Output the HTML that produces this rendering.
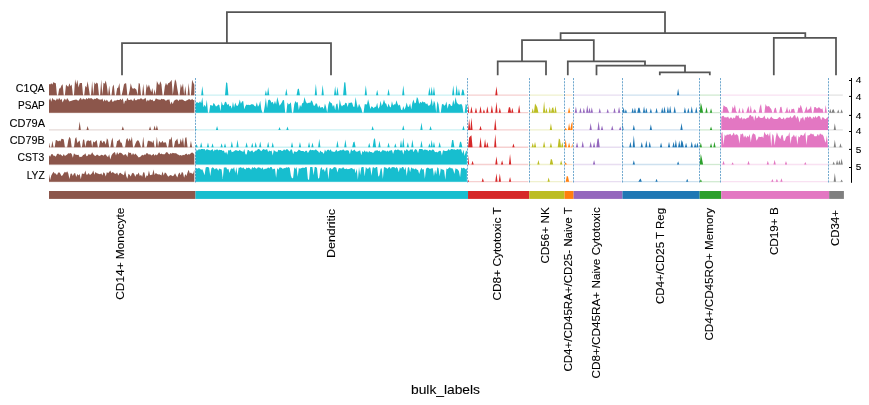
<!DOCTYPE html>
<html><head><meta charset="utf-8"><style>
html,body{margin:0;padding:0;background:#fff;}
svg{display:block;will-change:transform;}
text{font-family:"Liberation Sans",sans-serif;fill:#000;stroke:#000;stroke-width:0.1px;}
</style></head><body>
<svg width="869" height="405" viewBox="0 0 869 405">
<rect width="869" height="405" fill="#fff"/>
<path d="M226.9,43.0 V12.0 H665.0 V33.0" fill="none" stroke="#555555" stroke-width="1.75"/>
<path d="M122.0,75.3 V43.0 H331.0 V75.3" fill="none" stroke="#555555" stroke-width="1.75"/>
<path d="M560.6,40.0 V33.0 H805.3 V37.9" fill="none" stroke="#555555" stroke-width="1.75"/>
<path d="M522.0,61.3 V40.0 H593.8 V61.3" fill="none" stroke="#555555" stroke-width="1.75"/>
<path d="M497.7,75.3 V61.3 H546.0 V75.3" fill="none" stroke="#555555" stroke-width="1.75"/>
<path d="M567.8,75.3 V61.3 H645.0 V65.7" fill="none" stroke="#555555" stroke-width="1.75"/>
<path d="M596.5,75.3 V65.7 H685.0 V72.4" fill="none" stroke="#555555" stroke-width="1.75"/>
<path d="M659.8,75.3 V72.4 H709.8 V75.3" fill="none" stroke="#555555" stroke-width="1.75"/>
<path d="M773.8,75.3 V37.9 H836.0 V75.3" fill="none" stroke="#555555" stroke-width="1.75"/>
<path d="M49.00,95.20 L49.00,83.94 50.14,84.38 51.27,83.13 52.41,84.47 53.54,82.09 54.68,83.02 55.81,83.35 56.95,95.20 58.08,95.20 59.22,88.48 60.36,88.33 61.49,85.54 62.63,84.31 63.76,95.20 64.90,95.20 66.03,84.49 67.17,85.93 68.30,86.73 69.44,83.27 70.58,86.18 71.71,84.50 72.85,95.20 73.98,95.20 75.12,79.24 76.25,84.42 77.39,79.85 78.52,87.62 79.66,83.31 80.80,83.05 81.93,83.09 83.07,95.20 84.20,95.20 85.34,85.84 86.47,87.60 87.61,81.37 88.75,87.93 89.88,95.20 91.02,95.20 92.15,81.03 93.29,95.20 94.42,82.33 95.56,84.28 96.69,82.39 97.83,83.72 98.97,95.20 100.10,95.20 101.24,79.56 102.37,95.20 103.51,82.66 104.64,83.80 105.78,80.56 106.91,85.96 108.05,95.20 109.19,85.43 110.32,95.20 111.46,95.20 112.59,86.72 113.73,84.58 114.86,95.20 116.00,95.20 117.13,88.15 118.27,87.60 119.41,82.93 120.54,95.20 121.68,95.20 122.81,90.26 123.95,84.53 125.08,83.36 126.22,83.57 127.35,95.20 128.49,95.20 129.63,90.49 130.76,83.25 131.90,87.42 133.03,89.12 134.17,88.07 135.30,88.68 136.44,89.86 137.57,95.20 138.71,82.95 139.85,83.77 140.98,95.20 142.12,95.20 143.25,83.78 144.39,95.20 145.52,95.20 146.66,83.96 147.79,87.67 148.93,84.56 150.07,88.48 151.20,92.26 152.34,88.04 153.47,95.20 154.61,89.23 155.74,95.20 156.88,80.96 158.01,83.50 159.15,85.28 160.29,81.32 161.42,84.15 162.56,95.20 163.69,95.20 164.83,86.48 165.96,82.81 167.10,85.45 168.23,83.21 169.37,82.87 170.51,81.43 171.64,79.63 172.78,95.20 173.91,86.30 175.05,79.24 176.18,81.48 177.32,88.64 178.46,95.20 179.59,95.20 180.73,83.91 181.86,87.68 183.00,83.34 184.13,95.20 185.27,86.09 186.40,95.20 187.54,95.20 188.68,82.97 189.81,95.20 190.95,95.20 192.08,79.73 193.22,82.49 194.35,84.68 L194.35,95.20 Z" fill="#8c564b"/>
<line x1="49.00" y1="95.10" x2="194.35" y2="95.10" stroke="#8c564b" stroke-opacity="0.22" stroke-width="1.3"/>
<path d="M195.49,95.20 L195.49,95.20 196.62,95.20 197.76,95.20 198.90,95.20 200.03,95.20 201.17,95.20 202.30,85.97 203.44,95.20 204.57,95.20 205.71,95.20 206.84,95.20 207.98,95.20 209.12,95.20 210.25,95.20 211.39,95.20 212.52,95.20 213.66,95.20 214.79,95.20 215.93,95.20 217.06,95.20 218.20,95.20 219.34,95.20 220.47,95.20 221.61,95.20 222.74,95.20 223.88,95.20 225.01,95.20 226.15,82.24 227.28,83.04 228.42,95.20 229.56,95.20 230.69,95.20 231.83,95.20 232.96,95.20 234.10,95.20 235.23,95.20 236.37,95.20 237.50,95.20 238.64,95.20 239.78,95.20 240.91,95.20 242.05,95.20 243.18,95.20 244.32,95.20 245.45,95.20 246.59,95.20 247.72,95.20 248.86,95.20 250.00,95.20 251.13,95.20 252.27,95.20 253.40,95.20 254.54,95.20 255.67,95.20 256.81,95.20 257.95,95.20 259.08,95.20 260.22,95.20 261.35,95.20 262.49,95.20 263.62,95.20 264.76,95.20 265.89,90.34 267.03,95.20 268.17,86.89 269.30,95.20 270.44,95.20 271.57,95.20 272.71,95.20 273.84,95.20 274.98,95.20 276.11,95.20 277.25,95.20 278.39,95.20 279.52,95.20 280.66,95.20 281.79,95.20 282.93,95.20 284.06,95.20 285.20,95.20 286.33,88.62 287.47,95.20 288.61,95.20 289.74,95.20 290.88,95.20 292.01,95.20 293.15,95.20 294.28,95.20 295.42,95.20 296.55,95.20 297.69,89.22 298.83,88.48 299.96,95.20 301.10,95.20 302.23,95.20 303.37,95.20 304.50,95.20 305.64,95.20 306.77,95.20 307.91,95.20 309.05,95.20 310.18,95.20 311.32,95.20 312.45,95.20 313.59,95.20 314.72,95.20 315.86,83.66 316.99,95.20 318.13,95.20 319.27,95.20 320.40,95.20 321.54,95.20 322.67,84.86 323.81,95.20 324.94,95.20 326.08,95.20 327.21,95.20 328.35,95.20 329.49,95.20 330.62,95.20 331.76,95.20 332.89,95.20 334.03,95.20 335.16,86.11 336.30,95.20 337.44,86.70 338.57,95.20 339.71,95.20 340.84,95.20 341.98,95.20 343.11,95.20 344.25,82.25 345.38,82.45 346.52,95.20 347.66,95.20 348.79,95.20 349.93,95.20 351.06,95.20 352.20,95.20 353.33,95.20 354.47,95.20 355.60,95.20 356.74,95.20 357.88,95.20 359.01,95.20 360.15,95.20 361.28,95.20 362.42,95.20 363.55,95.20 364.69,95.20 365.82,85.35 366.96,95.20 368.10,95.20 369.23,95.20 370.37,95.20 371.50,95.20 372.64,95.20 373.77,95.20 374.91,95.20 376.04,95.20 377.18,89.78 378.32,95.20 379.45,95.20 380.59,95.20 381.72,95.20 382.86,95.20 383.99,95.20 385.13,95.20 386.26,95.20 387.40,95.20 388.54,88.69 389.67,95.20 390.81,95.20 391.94,95.20 393.08,95.20 394.21,95.20 395.35,95.20 396.48,95.20 397.62,95.20 398.76,95.20 399.89,95.20 401.03,95.20 402.16,95.20 403.30,85.20 404.43,95.20 405.57,95.20 406.70,95.20 407.84,95.20 408.98,95.20 410.11,95.20 411.25,95.20 412.38,95.20 413.52,95.20 414.65,95.20 415.79,95.20 416.93,95.20 418.06,95.20 419.20,95.20 420.33,95.20 421.47,95.20 422.60,95.20 423.74,95.20 424.87,95.20 426.01,95.20 427.15,95.20 428.28,95.20 429.42,86.92 430.55,95.20 431.69,86.48 432.82,95.20 433.96,86.59 435.09,95.20 436.23,95.20 437.37,95.20 438.50,95.20 439.64,95.20 440.77,95.20 441.91,95.20 443.04,95.20 444.18,95.20 445.31,95.20 446.45,95.20 447.59,95.20 448.72,95.20 449.86,95.20 450.99,95.20 452.13,95.20 453.26,85.34 454.40,95.20 455.53,95.20 456.67,84.78 457.81,95.20 458.94,88.50 460.08,95.20 461.21,95.20 462.35,89.29 463.48,90.05 464.62,95.20 465.75,95.20 466.89,95.20 L466.89,95.20 Z" fill="#17becf"/>
<line x1="195.49" y1="95.10" x2="466.89" y2="95.10" stroke="#17becf" stroke-opacity="0.22" stroke-width="1.3"/>
<path d="M468.03,95.20 L468.03,95.20 469.16,95.20 470.30,95.20 471.43,95.20 472.57,95.20 473.70,95.20 474.84,95.20 475.97,95.20 477.11,95.20 478.25,95.20 479.38,95.20 480.52,95.20 481.65,95.20 482.79,95.20 483.92,95.20 485.06,95.20 486.19,95.20 487.33,95.20 488.47,95.20 489.60,95.20 490.74,95.20 491.87,95.20 493.01,95.20 494.14,95.20 495.28,95.20 496.42,86.30 497.55,95.20 498.69,95.20 499.82,95.20 500.96,95.20 502.09,95.20 503.23,95.20 504.36,95.20 505.50,95.20 506.64,95.20 507.77,95.20 508.91,95.20 510.04,95.20 511.18,95.20 512.31,95.20 513.45,95.20 514.58,95.20 515.72,95.20 516.86,95.20 517.99,95.20 519.13,95.20 520.26,95.20 521.40,95.20 522.53,95.20 523.67,95.20 524.80,95.20 525.94,95.20 527.08,95.20 528.21,95.20 L528.21,95.20 Z" fill="#d62728"/>
<line x1="468.03" y1="95.10" x2="528.21" y2="95.10" stroke="#d62728" stroke-opacity="0.22" stroke-width="1.3"/>
<path d="M529.35,95.20 L529.35,95.20 530.48,95.20 531.62,95.20 532.75,95.20 533.89,95.20 535.02,95.20 536.16,95.20 537.30,95.20 538.43,95.20 539.57,95.20 540.70,95.20 541.84,95.20 542.97,95.20 544.11,95.20 545.24,95.20 546.38,95.20 547.52,95.20 548.65,95.20 549.79,95.20 550.92,95.20 552.06,95.20 553.19,95.20 554.33,95.20 555.46,95.20 556.60,95.20 557.74,95.20 558.87,95.20 560.01,95.20 561.14,95.20 562.28,95.20 563.41,95.20 L563.41,95.20 Z" fill="#bcbd22"/>
<line x1="529.35" y1="95.10" x2="563.41" y2="95.10" stroke="#bcbd22" stroke-opacity="0.22" stroke-width="1.3"/>
<path d="M564.55,95.20 L564.55,95.20 565.68,95.20 566.82,95.20 567.96,95.20 569.09,95.20 570.23,95.20 571.36,95.20 572.50,95.20 L572.50,95.20 Z" fill="#ff7f0e"/>
<line x1="564.55" y1="95.10" x2="572.50" y2="95.10" stroke="#ff7f0e" stroke-opacity="0.22" stroke-width="1.3"/>
<path d="M573.63,95.20 L573.63,95.20 574.77,95.20 575.91,95.20 577.04,95.20 578.18,95.20 579.31,95.20 580.45,95.20 581.58,95.20 582.72,95.20 583.85,95.20 584.99,95.20 586.13,95.20 587.26,95.20 588.40,95.20 589.53,95.20 590.67,95.20 591.80,95.20 592.94,95.20 594.07,95.20 595.21,95.20 596.35,95.20 597.48,95.20 598.62,95.20 599.75,95.20 600.89,95.20 602.02,95.20 603.16,95.20 604.29,95.20 605.43,95.20 606.57,95.20 607.70,95.20 608.84,95.20 609.97,95.20 611.11,95.20 612.24,95.20 613.38,95.20 614.51,95.20 615.65,95.20 616.79,95.20 617.92,95.20 619.06,95.20 620.19,95.20 621.33,95.20 L621.33,95.20 Z" fill="#9467bd"/>
<line x1="573.63" y1="95.10" x2="621.33" y2="95.10" stroke="#9467bd" stroke-opacity="0.22" stroke-width="1.3"/>
<path d="M622.46,95.20 L622.46,95.20 623.60,95.20 624.73,95.20 625.87,95.20 627.01,95.20 628.14,95.20 629.28,95.20 630.41,95.20 631.55,95.20 632.68,95.20 633.82,95.20 634.95,95.20 636.09,95.20 637.23,95.20 638.36,95.20 639.50,95.20 640.63,95.20 641.77,95.20 642.90,95.20 644.04,95.20 645.17,95.20 646.31,95.20 647.45,95.20 648.58,95.20 649.72,95.20 650.85,95.20 651.99,95.20 653.12,95.20 654.26,95.20 655.40,95.20 656.53,95.20 657.67,95.20 658.80,95.20 659.94,95.20 661.07,95.20 662.21,95.20 663.34,95.20 664.48,95.20 665.62,95.20 666.75,95.20 667.89,95.20 669.02,95.20 670.16,95.20 671.29,95.20 672.43,95.20 673.56,95.20 674.70,95.20 675.84,95.20 676.97,95.20 678.11,88.56 679.24,95.20 680.38,95.20 681.51,95.20 682.65,95.20 683.78,95.20 684.92,95.20 686.06,95.20 687.19,95.20 688.33,95.20 689.46,95.20 690.60,95.20 691.73,95.20 692.87,95.20 694.00,95.20 695.14,95.20 696.28,95.20 697.41,95.20 698.55,95.20 L698.55,95.20 Z" fill="#1f77b4"/>
<line x1="622.46" y1="95.10" x2="698.55" y2="95.10" stroke="#1f77b4" stroke-opacity="0.22" stroke-width="1.3"/>
<path d="M699.68,95.20 L699.68,95.20 700.82,95.20 701.95,95.20 703.09,95.20 704.22,95.20 705.36,95.20 706.50,95.20 707.63,95.20 708.77,95.20 709.90,95.20 711.04,95.20 712.17,95.20 713.31,95.20 714.44,95.20 715.58,95.20 716.72,95.20 717.85,95.20 718.99,95.20 720.12,95.20 L720.12,95.20 Z" fill="#2ca02c"/>
<line x1="699.68" y1="95.10" x2="720.12" y2="95.10" stroke="#2ca02c" stroke-opacity="0.22" stroke-width="1.3"/>
<path d="M721.26,95.20 L721.26,95.20 722.39,95.20 723.53,95.20 724.66,95.20 725.80,95.20 726.94,95.20 728.07,95.20 729.21,95.20 730.34,95.20 731.48,95.20 732.61,95.20 733.75,95.20 734.89,95.20 736.02,95.20 737.16,95.20 738.29,95.20 739.43,95.20 740.56,95.20 741.70,95.20 742.83,95.20 743.97,95.20 745.11,95.20 746.24,95.20 747.38,95.20 748.51,95.20 749.65,95.20 750.78,95.20 751.92,95.20 753.05,95.20 754.19,95.20 755.33,95.20 756.46,95.20 757.60,95.20 758.73,95.20 759.87,95.20 761.00,95.20 762.14,95.20 763.27,95.20 764.41,95.20 765.55,95.20 766.68,95.20 767.82,95.20 768.95,95.20 770.09,95.20 771.22,95.20 772.36,95.20 773.49,95.20 774.63,95.20 775.77,95.20 776.90,95.20 778.04,95.20 779.17,95.20 780.31,95.20 781.44,95.20 782.58,95.20 783.71,95.20 784.85,95.20 785.99,95.20 787.12,95.20 788.26,95.20 789.39,95.20 790.53,95.20 791.66,95.20 792.80,95.20 793.93,95.20 795.07,95.20 796.21,95.20 797.34,95.20 798.48,95.20 799.61,95.20 800.75,95.20 801.88,95.20 803.02,95.20 804.15,95.20 805.29,95.20 806.43,95.20 807.56,95.20 808.70,95.20 809.83,95.20 810.97,95.20 812.10,95.20 813.24,95.20 814.38,95.20 815.51,95.20 816.65,95.20 817.78,95.20 818.92,95.20 820.05,95.20 821.19,95.20 822.32,95.20 823.46,95.20 824.60,95.20 825.73,95.20 826.87,95.20 828.00,95.20 L828.00,95.20 Z" fill="#e377c2"/>
<line x1="721.26" y1="95.10" x2="828.00" y2="95.10" stroke="#e377c2" stroke-opacity="0.22" stroke-width="1.3"/>
<path d="M829.14,95.20 L829.14,95.20 830.27,95.20 831.41,95.20 832.54,95.20 833.68,95.20 834.82,95.20 835.95,95.20 837.09,95.20 838.22,95.20 839.36,95.20 840.49,95.20 841.63,95.20 842.76,95.20 L842.76,95.20 Z" fill="#7f7f7f"/>
<line x1="829.14" y1="95.10" x2="842.76" y2="95.10" stroke="#7f7f7f" stroke-opacity="0.22" stroke-width="1.3"/>
<path d="M49.00,112.70 L49.00,100.53 50.14,97.92 51.27,101.75 52.41,97.86 53.54,99.77 54.68,99.76 55.81,100.75 56.95,98.22 58.08,100.06 59.22,97.78 60.36,99.94 61.49,98.74 62.63,102.48 63.76,99.92 64.90,98.60 66.03,100.56 67.17,98.06 68.30,99.66 69.44,101.44 70.58,100.88 71.71,100.70 72.85,100.36 73.98,99.89 75.12,99.70 76.25,99.42 77.39,100.21 78.52,100.69 79.66,98.98 80.80,97.79 81.93,99.97 83.07,98.53 84.20,99.05 85.34,99.79 86.47,98.10 87.61,99.22 88.75,97.78 89.88,98.83 91.02,97.96 92.15,98.82 93.29,99.71 94.42,98.80 95.56,98.97 96.69,98.05 97.83,98.52 98.97,99.56 100.10,99.60 101.24,99.68 102.37,98.58 103.51,101.80 104.64,99.24 105.78,101.32 106.91,99.40 108.05,101.47 109.19,102.06 110.32,100.46 111.46,99.12 112.59,101.96 113.73,101.25 114.86,100.36 116.00,100.72 117.13,99.66 118.27,100.08 119.41,99.92 120.54,98.84 121.68,100.14 122.81,98.16 123.95,104.21 125.08,100.46 126.22,101.25 127.35,97.78 128.49,100.12 129.63,100.00 130.76,99.47 131.90,99.77 133.03,101.27 134.17,97.96 135.30,100.36 136.44,100.27 137.57,99.23 138.71,99.16 139.85,99.23 140.98,98.01 142.12,99.23 143.25,99.47 144.39,98.76 145.52,97.78 146.66,101.79 147.79,99.73 148.93,100.95 150.07,98.98 151.20,100.29 152.34,99.51 153.47,101.18 154.61,101.06 155.74,98.62 156.88,98.84 158.01,99.56 159.15,99.43 160.29,100.04 161.42,98.80 162.56,99.16 163.69,98.97 164.83,99.63 165.96,101.07 167.10,99.84 168.23,99.74 169.37,99.28 170.51,104.39 171.64,101.45 172.78,104.16 173.91,100.96 175.05,99.99 176.18,99.56 177.32,99.52 178.46,101.02 179.59,99.55 180.73,99.65 181.86,99.60 183.00,99.71 184.13,100.79 185.27,101.37 186.40,100.47 187.54,100.10 188.68,99.19 189.81,99.20 190.95,100.36 192.08,98.86 193.22,100.24 194.35,99.66 L194.35,112.70 Z" fill="#8c564b"/>
<line x1="49.00" y1="112.60" x2="194.35" y2="112.60" stroke="#8c564b" stroke-opacity="0.22" stroke-width="1.3"/>
<path d="M195.49,112.70 L195.49,104.36 196.62,102.11 197.76,102.49 198.90,103.04 200.03,101.23 201.17,103.28 202.30,97.29 203.44,107.25 204.57,104.86 205.71,107.00 206.84,99.87 207.98,112.70 209.12,112.70 210.25,105.12 211.39,105.35 212.52,106.10 213.66,102.84 214.79,104.52 215.93,106.47 217.06,106.11 218.20,104.49 219.34,104.99 220.47,111.23 221.61,101.46 222.74,104.89 223.88,105.32 225.01,101.86 226.15,101.98 227.28,105.04 228.42,103.72 229.56,106.48 230.69,105.47 231.83,108.66 232.96,101.78 234.10,107.45 235.23,102.54 236.37,105.41 237.50,105.93 238.64,103.93 239.78,99.51 240.91,103.70 242.05,101.55 243.18,101.00 244.32,109.37 245.45,106.03 246.59,104.40 247.72,105.01 248.86,104.69 250.00,105.19 251.13,104.27 252.27,104.34 253.40,104.54 254.54,106.03 255.67,106.44 256.81,102.23 257.95,106.63 259.08,105.08 260.22,100.74 261.35,109.61 262.49,112.70 263.62,112.70 264.76,106.07 265.89,97.86 267.03,108.37 268.17,100.22 269.30,99.54 270.44,100.60 271.57,102.85 272.71,101.70 273.84,104.56 274.98,100.85 276.11,104.62 277.25,97.09 278.39,101.35 279.52,105.75 280.66,104.20 281.79,102.53 282.93,100.05 284.06,100.30 285.20,112.70 286.33,112.70 287.47,102.57 288.61,104.48 289.74,103.79 290.88,102.14 292.01,112.70 293.15,112.70 294.28,104.13 295.42,100.95 296.55,102.86 297.69,102.06 298.83,110.05 299.96,104.67 301.10,107.08 302.23,103.36 303.37,102.74 304.50,97.09 305.64,101.24 306.77,103.17 307.91,103.14 309.05,102.54 310.18,103.12 311.32,100.37 312.45,101.78 313.59,105.49 314.72,105.78 315.86,103.16 316.99,103.65 318.13,107.74 319.27,105.21 320.40,107.79 321.54,107.15 322.67,106.89 323.81,108.92 324.94,103.40 326.08,107.02 327.21,112.70 328.35,104.86 329.49,101.06 330.62,102.84 331.76,103.15 332.89,106.64 334.03,104.73 335.16,110.36 336.30,104.12 337.44,103.42 338.57,110.84 339.71,99.20 340.84,104.60 341.98,106.61 343.11,105.12 344.25,105.36 345.38,102.67 346.52,103.08 347.66,106.96 348.79,102.50 349.93,103.13 351.06,102.30 352.20,103.12 353.33,106.65 354.47,106.71 355.60,97.09 356.74,103.46 357.88,107.88 359.01,103.82 360.15,106.26 361.28,108.61 362.42,112.70 363.55,112.70 364.69,104.14 365.82,104.19 366.96,104.61 368.10,99.30 369.23,103.52 370.37,109.03 371.50,106.17 372.64,107.11 373.77,108.25 374.91,106.68 376.04,106.71 377.18,102.71 378.32,108.82 379.45,106.80 380.59,100.84 381.72,105.99 382.86,103.40 383.99,99.48 385.13,103.30 386.26,103.81 387.40,107.62 388.54,103.54 389.67,106.58 390.81,107.56 391.94,101.26 393.08,105.62 394.21,104.21 395.35,104.61 396.48,100.14 397.62,103.95 398.76,105.75 399.89,104.44 401.03,109.53 402.16,110.37 403.30,106.01 404.43,109.71 405.57,107.05 406.70,102.56 407.84,106.72 408.98,106.80 410.11,103.15 411.25,109.42 412.38,102.74 413.52,99.55 414.65,103.40 415.79,102.64 416.93,97.09 418.06,98.76 419.20,104.07 420.33,101.75 421.47,103.10 422.60,101.18 423.74,102.38 424.87,102.02 426.01,104.17 427.15,103.23 428.28,105.80 429.42,105.52 430.55,104.15 431.69,98.37 432.82,106.26 433.96,100.62 435.09,103.62 436.23,112.70 437.37,101.28 438.50,104.32 439.64,112.70 440.77,112.70 441.91,104.42 443.04,103.72 444.18,105.75 445.31,105.04 446.45,101.58 447.59,108.86 448.72,104.17 449.86,103.66 450.99,105.91 452.13,105.84 453.26,99.79 454.40,104.73 455.53,97.12 456.67,102.13 457.81,103.84 458.94,104.47 460.08,104.42 461.21,103.75 462.35,105.63 463.48,112.70 464.62,112.70 465.75,103.74 466.89,105.31 L466.89,112.70 Z" fill="#17becf"/>
<line x1="195.49" y1="112.60" x2="466.89" y2="112.60" stroke="#17becf" stroke-opacity="0.22" stroke-width="1.3"/>
<path d="M468.03,112.70 L468.03,103.71 469.16,112.70 470.30,112.70 471.43,106.37 472.57,112.70 473.70,112.70 474.84,112.70 475.97,107.46 477.11,112.70 478.25,112.70 479.38,112.70 480.52,105.96 481.65,112.70 482.79,112.70 483.92,109.21 485.06,112.70 486.19,112.70 487.33,106.34 488.47,112.70 489.60,112.70 490.74,112.70 491.87,105.25 493.01,112.70 494.14,112.70 495.28,112.70 496.42,101.64 497.55,112.70 498.69,112.70 499.82,107.41 500.96,112.70 502.09,112.70 503.23,112.70 504.36,112.70 505.50,112.70 506.64,112.70 507.77,112.70 508.91,107.33 510.04,107.15 511.18,112.70 512.31,107.73 513.45,112.70 514.58,112.70 515.72,112.70 516.86,112.70 517.99,112.70 519.13,104.99 520.26,112.70 521.40,112.70 522.53,112.70 523.67,112.70 524.80,112.70 525.94,112.70 527.08,112.70 528.21,112.70 L528.21,112.70 Z" fill="#d62728"/>
<line x1="468.03" y1="112.60" x2="528.21" y2="112.60" stroke="#d62728" stroke-opacity="0.22" stroke-width="1.3"/>
<path d="M529.35,112.70 L529.35,112.70 530.48,112.70 531.62,112.70 532.75,108.22 533.89,112.70 535.02,103.59 536.16,105.27 537.30,107.49 538.43,112.70 539.57,112.70 540.70,112.70 541.84,112.70 542.97,112.70 544.11,101.36 545.24,112.70 546.38,107.99 547.52,112.70 548.65,112.70 549.79,106.71 550.92,112.70 552.06,108.01 553.19,107.23 554.33,112.70 555.46,105.67 556.60,112.70 557.74,112.70 558.87,112.70 560.01,112.70 561.14,112.70 562.28,112.70 563.41,112.70 L563.41,112.70 Z" fill="#bcbd22"/>
<line x1="529.35" y1="112.60" x2="563.41" y2="112.60" stroke="#bcbd22" stroke-opacity="0.22" stroke-width="1.3"/>
<path d="M564.55,112.70 L564.55,112.70 565.68,112.70 566.82,112.70 567.96,112.70 569.09,107.24 570.23,112.70 571.36,112.70 572.50,112.70 L572.50,112.70 Z" fill="#ff7f0e"/>
<line x1="564.55" y1="112.60" x2="572.50" y2="112.60" stroke="#ff7f0e" stroke-opacity="0.22" stroke-width="1.3"/>
<path d="M573.63,112.70 L573.63,112.70 574.77,112.70 575.91,106.57 577.04,112.70 578.18,112.70 579.31,112.70 580.45,107.62 581.58,112.70 582.72,112.70 583.85,107.77 584.99,112.70 586.13,112.70 587.26,104.91 588.40,112.70 589.53,107.45 590.67,112.70 591.80,107.19 592.94,112.70 594.07,112.70 595.21,112.70 596.35,112.70 597.48,112.70 598.62,112.70 599.75,107.91 600.89,112.70 602.02,112.70 603.16,112.70 604.29,112.70 605.43,112.70 606.57,112.70 607.70,108.67 608.84,112.70 609.97,112.70 611.11,112.70 612.24,112.70 613.38,112.70 614.51,107.76 615.65,112.70 616.79,112.70 617.92,112.70 619.06,106.76 620.19,112.70 621.33,112.70 L621.33,112.70 Z" fill="#9467bd"/>
<line x1="573.63" y1="112.60" x2="621.33" y2="112.60" stroke="#9467bd" stroke-opacity="0.22" stroke-width="1.3"/>
<path d="M622.46,112.70 L622.46,112.70 623.60,107.28 624.73,112.70 625.87,109.21 627.01,112.70 628.14,112.70 629.28,112.70 630.41,112.70 631.55,112.70 632.68,107.72 633.82,112.70 634.95,107.61 636.09,112.70 637.23,112.70 638.36,107.83 639.50,107.67 640.63,112.70 641.77,112.70 642.90,112.70 644.04,106.35 645.17,112.70 646.31,107.71 647.45,112.70 648.58,112.70 649.72,112.70 650.85,108.27 651.99,112.70 653.12,112.70 654.26,112.70 655.40,112.70 656.53,107.77 657.67,112.70 658.80,112.70 659.94,112.70 661.07,112.70 662.21,107.29 663.34,112.70 664.48,106.19 665.62,112.70 666.75,112.70 667.89,106.28 669.02,112.70 670.16,105.82 671.29,112.70 672.43,112.70 673.56,112.70 674.70,106.22 675.84,112.70 676.97,112.70 678.11,112.70 679.24,112.70 680.38,112.70 681.51,112.70 682.65,112.70 683.78,112.70 684.92,106.88 686.06,112.70 687.19,112.70 688.33,107.82 689.46,112.70 690.60,112.70 691.73,106.30 692.87,112.70 694.00,112.70 695.14,112.70 696.28,106.81 697.41,112.70 698.55,112.70 L698.55,112.70 Z" fill="#1f77b4"/>
<line x1="622.46" y1="112.60" x2="698.55" y2="112.60" stroke="#1f77b4" stroke-opacity="0.22" stroke-width="1.3"/>
<path d="M699.68,112.70 L699.68,112.70 700.82,102.58 701.95,106.74 703.09,112.70 704.22,112.70 705.36,112.70 706.50,107.05 707.63,112.70 708.77,112.70 709.90,112.70 711.04,108.37 712.17,112.70 713.31,112.70 714.44,112.70 715.58,112.70 716.72,112.70 717.85,112.70 718.99,112.70 720.12,112.70 L720.12,112.70 Z" fill="#2ca02c"/>
<line x1="699.68" y1="112.60" x2="720.12" y2="112.60" stroke="#2ca02c" stroke-opacity="0.22" stroke-width="1.3"/>
<path d="M721.26,112.70 L721.26,110.96 722.39,112.70 723.53,105.34 724.66,106.20 725.80,106.95 726.94,107.31 728.07,109.93 729.21,112.70 730.34,112.70 731.48,112.70 732.61,106.35 733.75,108.67 734.89,104.59 736.02,111.05 737.16,112.70 738.29,112.70 739.43,107.43 740.56,112.70 741.70,112.70 742.83,107.87 743.97,112.70 745.11,112.70 746.24,112.70 747.38,109.04 748.51,105.91 749.65,112.70 750.78,105.24 751.92,112.70 753.05,112.17 754.19,109.31 755.33,109.95 756.46,112.70 757.60,112.70 758.73,112.70 759.87,106.77 761.00,104.03 762.14,112.70 763.27,112.70 764.41,112.70 765.55,104.03 766.68,106.30 767.82,106.55 768.95,106.12 770.09,107.81 771.22,108.96 772.36,112.70 773.49,112.70 774.63,108.61 775.77,107.48 776.90,112.70 778.04,112.70 779.17,112.70 780.31,107.00 781.44,106.71 782.58,112.70 783.71,112.70 784.85,112.70 785.99,110.74 787.12,106.72 788.26,112.70 789.39,108.74 790.53,112.70 791.66,108.75 792.80,109.14 793.93,108.52 795.07,112.70 796.21,112.70 797.34,112.70 798.48,107.34 799.61,108.29 800.75,104.63 801.88,108.36 803.02,112.70 804.15,112.70 805.29,109.93 806.43,106.24 807.56,110.81 808.70,109.31 809.83,108.61 810.97,105.66 812.10,112.70 813.24,112.70 814.38,106.96 815.51,106.91 816.65,108.53 817.78,108.16 818.92,106.97 820.05,108.22 821.19,109.13 822.32,108.23 823.46,112.70 824.60,112.70 825.73,104.91 826.87,112.70 828.00,112.70 L828.00,112.70 Z" fill="#e377c2"/>
<line x1="721.26" y1="112.60" x2="828.00" y2="112.60" stroke="#e377c2" stroke-opacity="0.22" stroke-width="1.3"/>
<path d="M829.14,112.70 L829.14,112.70 830.27,108.79 831.41,112.70 832.54,109.75 833.68,109.17 834.82,112.70 835.95,112.70 837.09,112.70 838.22,109.43 839.36,112.70 840.49,112.70 841.63,109.34 842.76,112.70 L842.76,112.70 Z" fill="#7f7f7f"/>
<line x1="829.14" y1="112.60" x2="842.76" y2="112.60" stroke="#7f7f7f" stroke-opacity="0.22" stroke-width="1.3"/>
<path d="M49.00,130.00 L49.00,130.00 50.14,130.00 51.27,130.00 52.41,130.00 53.54,130.00 54.68,130.00 55.81,130.00 56.95,130.00 58.08,130.00 59.22,130.00 60.36,130.00 61.49,130.00 62.63,130.00 63.76,130.00 64.90,130.00 66.03,130.00 67.17,130.00 68.30,130.00 69.44,130.00 70.58,130.00 71.71,130.00 72.85,130.00 73.98,130.00 75.12,130.00 76.25,130.00 77.39,130.00 78.52,130.00 79.66,121.53 80.80,130.00 81.93,130.00 83.07,130.00 84.20,130.00 85.34,130.00 86.47,130.00 87.61,126.12 88.75,130.00 89.88,130.00 91.02,130.00 92.15,130.00 93.29,130.00 94.42,130.00 95.56,130.00 96.69,130.00 97.83,130.00 98.97,130.00 100.10,130.00 101.24,130.00 102.37,130.00 103.51,130.00 104.64,130.00 105.78,130.00 106.91,130.00 108.05,130.00 109.19,130.00 110.32,130.00 111.46,130.00 112.59,130.00 113.73,130.00 114.86,130.00 116.00,130.00 117.13,130.00 118.27,130.00 119.41,130.00 120.54,130.00 121.68,130.00 122.81,126.29 123.95,130.00 125.08,130.00 126.22,130.00 127.35,130.00 128.49,130.00 129.63,130.00 130.76,130.00 131.90,130.00 133.03,130.00 134.17,130.00 135.30,130.00 136.44,130.00 137.57,130.00 138.71,130.00 139.85,130.00 140.98,130.00 142.12,130.00 143.25,130.00 144.39,130.00 145.52,130.00 146.66,130.00 147.79,130.00 148.93,130.00 150.07,126.18 151.20,130.00 152.34,130.00 153.47,130.00 154.61,125.50 155.74,130.00 156.88,125.36 158.01,130.00 159.15,130.00 160.29,130.00 161.42,130.00 162.56,130.00 163.69,130.00 164.83,130.00 165.96,130.00 167.10,130.00 168.23,130.00 169.37,130.00 170.51,130.00 171.64,130.00 172.78,130.00 173.91,130.00 175.05,130.00 176.18,130.00 177.32,130.00 178.46,130.00 179.59,130.00 180.73,130.00 181.86,130.00 183.00,130.00 184.13,130.00 185.27,130.00 186.40,130.00 187.54,130.00 188.68,130.00 189.81,130.00 190.95,130.00 192.08,130.00 193.22,130.00 194.35,130.00 L194.35,130.00 Z" fill="#8c564b"/>
<line x1="49.00" y1="129.90" x2="194.35" y2="129.90" stroke="#8c564b" stroke-opacity="0.22" stroke-width="1.3"/>
<path d="M195.49,130.00 L195.49,127.76 196.62,130.00 197.76,130.00 198.90,130.00 200.03,130.00 201.17,130.00 202.30,130.00 203.44,130.00 204.57,130.00 205.71,130.00 206.84,130.00 207.98,130.00 209.12,130.00 210.25,130.00 211.39,130.00 212.52,130.00 213.66,130.00 214.79,130.00 215.93,130.00 217.06,126.06 218.20,130.00 219.34,130.00 220.47,130.00 221.61,130.00 222.74,130.00 223.88,130.00 225.01,130.00 226.15,130.00 227.28,130.00 228.42,130.00 229.56,130.00 230.69,130.00 231.83,130.00 232.96,130.00 234.10,130.00 235.23,130.00 236.37,130.00 237.50,130.00 238.64,130.00 239.78,130.00 240.91,130.00 242.05,130.00 243.18,130.00 244.32,130.00 245.45,130.00 246.59,130.00 247.72,130.00 248.86,130.00 250.00,130.00 251.13,130.00 252.27,130.00 253.40,130.00 254.54,130.00 255.67,130.00 256.81,130.00 257.95,130.00 259.08,130.00 260.22,130.00 261.35,130.00 262.49,130.00 263.62,130.00 264.76,130.00 265.89,130.00 267.03,130.00 268.17,130.00 269.30,130.00 270.44,130.00 271.57,130.00 272.71,130.00 273.84,130.00 274.98,130.00 276.11,130.00 277.25,130.00 278.39,130.00 279.52,126.98 280.66,130.00 281.79,130.00 282.93,130.00 284.06,130.00 285.20,130.00 286.33,130.00 287.47,126.49 288.61,130.00 289.74,130.00 290.88,130.00 292.01,130.00 293.15,130.00 294.28,130.00 295.42,130.00 296.55,130.00 297.69,130.00 298.83,130.00 299.96,130.00 301.10,130.00 302.23,130.00 303.37,130.00 304.50,130.00 305.64,130.00 306.77,130.00 307.91,130.00 309.05,130.00 310.18,130.00 311.32,130.00 312.45,130.00 313.59,130.00 314.72,130.00 315.86,130.00 316.99,130.00 318.13,130.00 319.27,130.00 320.40,130.00 321.54,130.00 322.67,130.00 323.81,130.00 324.94,130.00 326.08,130.00 327.21,130.00 328.35,130.00 329.49,130.00 330.62,130.00 331.76,130.00 332.89,130.00 334.03,130.00 335.16,130.00 336.30,130.00 337.44,130.00 338.57,130.00 339.71,130.00 340.84,130.00 341.98,130.00 343.11,130.00 344.25,130.00 345.38,130.00 346.52,130.00 347.66,130.00 348.79,130.00 349.93,130.00 351.06,130.00 352.20,130.00 353.33,130.00 354.47,130.00 355.60,130.00 356.74,130.00 357.88,130.00 359.01,130.00 360.15,130.00 361.28,130.00 362.42,130.00 363.55,130.00 364.69,130.00 365.82,130.00 366.96,130.00 368.10,130.00 369.23,130.00 370.37,130.00 371.50,130.00 372.64,126.12 373.77,130.00 374.91,130.00 376.04,130.00 377.18,130.00 378.32,130.00 379.45,130.00 380.59,130.00 381.72,130.00 382.86,130.00 383.99,130.00 385.13,130.00 386.26,130.00 387.40,130.00 388.54,130.00 389.67,130.00 390.81,130.00 391.94,130.00 393.08,130.00 394.21,130.00 395.35,130.00 396.48,130.00 397.62,130.00 398.76,130.00 399.89,130.00 401.03,130.00 402.16,130.00 403.30,125.20 404.43,130.00 405.57,130.00 406.70,130.00 407.84,130.00 408.98,130.00 410.11,130.00 411.25,130.00 412.38,130.00 413.52,130.00 414.65,130.00 415.79,130.00 416.93,130.00 418.06,130.00 419.20,130.00 420.33,130.00 421.47,122.53 422.60,130.00 423.74,130.00 424.87,130.00 426.01,130.00 427.15,130.00 428.28,130.00 429.42,130.00 430.55,126.00 431.69,130.00 432.82,130.00 433.96,130.00 435.09,130.00 436.23,130.00 437.37,130.00 438.50,130.00 439.64,130.00 440.77,130.00 441.91,130.00 443.04,130.00 444.18,130.00 445.31,130.00 446.45,130.00 447.59,130.00 448.72,130.00 449.86,130.00 450.99,130.00 452.13,130.00 453.26,130.00 454.40,130.00 455.53,130.00 456.67,130.00 457.81,130.00 458.94,130.00 460.08,130.00 461.21,130.00 462.35,130.00 463.48,125.40 464.62,130.00 465.75,130.00 466.89,130.00 L466.89,130.00 Z" fill="#17becf"/>
<line x1="195.49" y1="129.90" x2="466.89" y2="129.90" stroke="#17becf" stroke-opacity="0.22" stroke-width="1.3"/>
<path d="M468.03,130.00 L468.03,130.00 469.16,118.87 470.30,130.00 471.43,117.60 472.57,130.00 473.70,130.00 474.84,130.00 475.97,130.00 477.11,130.00 478.25,130.00 479.38,130.00 480.52,125.76 481.65,130.00 482.79,130.00 483.92,130.00 485.06,130.00 486.19,130.00 487.33,130.00 488.47,130.00 489.60,130.00 490.74,130.00 491.87,130.00 493.01,130.00 494.14,130.00 495.28,118.51 496.42,130.00 497.55,130.00 498.69,130.00 499.82,130.00 500.96,130.00 502.09,130.00 503.23,130.00 504.36,130.00 505.50,130.00 506.64,130.00 507.77,130.00 508.91,130.00 510.04,130.00 511.18,130.00 512.31,130.00 513.45,130.00 514.58,130.00 515.72,130.00 516.86,130.00 517.99,130.00 519.13,130.00 520.26,130.00 521.40,130.00 522.53,130.00 523.67,130.00 524.80,130.00 525.94,130.00 527.08,130.00 528.21,130.00 L528.21,130.00 Z" fill="#d62728"/>
<line x1="468.03" y1="129.90" x2="528.21" y2="129.90" stroke="#d62728" stroke-opacity="0.22" stroke-width="1.3"/>
<path d="M529.35,130.00 L529.35,130.00 530.48,130.00 531.62,130.00 532.75,130.00 533.89,130.00 535.02,130.00 536.16,130.00 537.30,130.00 538.43,130.00 539.57,130.00 540.70,130.00 541.84,130.00 542.97,130.00 544.11,130.00 545.24,130.00 546.38,130.00 547.52,130.00 548.65,130.00 549.79,130.00 550.92,123.14 552.06,130.00 553.19,130.00 554.33,130.00 555.46,130.00 556.60,130.00 557.74,130.00 558.87,130.00 560.01,130.00 561.14,130.00 562.28,130.00 563.41,130.00 L563.41,130.00 Z" fill="#bcbd22"/>
<line x1="529.35" y1="129.90" x2="563.41" y2="129.90" stroke="#bcbd22" stroke-opacity="0.22" stroke-width="1.3"/>
<path d="M564.55,130.00 L564.55,130.00 565.68,127.78 566.82,130.00 567.96,130.00 569.09,123.07 570.23,130.00 571.36,123.81 572.50,121.60 L572.50,130.00 Z" fill="#ff7f0e"/>
<line x1="564.55" y1="129.90" x2="572.50" y2="129.90" stroke="#ff7f0e" stroke-opacity="0.22" stroke-width="1.3"/>
<path d="M573.63,130.00 L573.63,130.00 574.77,130.00 575.91,130.00 577.04,130.00 578.18,130.00 579.31,130.00 580.45,130.00 581.58,130.00 582.72,130.00 583.85,130.00 584.99,130.00 586.13,130.00 587.26,130.00 588.40,130.00 589.53,130.00 590.67,122.90 591.80,130.00 592.94,130.00 594.07,130.00 595.21,130.00 596.35,130.00 597.48,130.00 598.62,121.17 599.75,130.00 600.89,130.00 602.02,125.47 603.16,130.00 604.29,130.00 605.43,130.00 606.57,130.00 607.70,130.00 608.84,130.00 609.97,130.00 611.11,130.00 612.24,125.44 613.38,130.00 614.51,130.00 615.65,130.00 616.79,130.00 617.92,130.00 619.06,130.00 620.19,126.47 621.33,130.00 L621.33,130.00 Z" fill="#9467bd"/>
<line x1="573.63" y1="129.90" x2="621.33" y2="129.90" stroke="#9467bd" stroke-opacity="0.22" stroke-width="1.3"/>
<path d="M622.46,130.00 L622.46,122.69 623.60,130.00 624.73,130.00 625.87,130.00 627.01,130.00 628.14,130.00 629.28,130.00 630.41,130.00 631.55,130.00 632.68,130.00 633.82,124.69 634.95,130.00 636.09,130.00 637.23,130.00 638.36,130.00 639.50,130.00 640.63,130.00 641.77,130.00 642.90,130.00 644.04,130.00 645.17,130.00 646.31,130.00 647.45,130.00 648.58,130.00 649.72,130.00 650.85,124.31 651.99,130.00 653.12,130.00 654.26,130.00 655.40,130.00 656.53,130.00 657.67,130.00 658.80,130.00 659.94,130.00 661.07,130.00 662.21,130.00 663.34,130.00 664.48,130.00 665.62,130.00 666.75,130.00 667.89,130.00 669.02,130.00 670.16,130.00 671.29,130.00 672.43,130.00 673.56,130.00 674.70,130.00 675.84,130.00 676.97,130.00 678.11,130.00 679.24,130.00 680.38,130.00 681.51,122.99 682.65,130.00 683.78,130.00 684.92,130.00 686.06,130.00 687.19,130.00 688.33,130.00 689.46,130.00 690.60,130.00 691.73,130.00 692.87,130.00 694.00,130.00 695.14,130.00 696.28,130.00 697.41,130.00 698.55,130.00 L698.55,130.00 Z" fill="#1f77b4"/>
<line x1="622.46" y1="129.90" x2="698.55" y2="129.90" stroke="#1f77b4" stroke-opacity="0.22" stroke-width="1.3"/>
<path d="M699.68,130.00 L699.68,130.00 700.82,130.00 701.95,130.00 703.09,130.00 704.22,130.00 705.36,130.00 706.50,130.00 707.63,130.00 708.77,130.00 709.90,130.00 711.04,126.43 712.17,130.00 713.31,130.00 714.44,130.00 715.58,130.00 716.72,130.00 717.85,130.00 718.99,130.00 720.12,130.00 L720.12,130.00 Z" fill="#2ca02c"/>
<line x1="699.68" y1="129.90" x2="720.12" y2="129.90" stroke="#2ca02c" stroke-opacity="0.22" stroke-width="1.3"/>
<path d="M721.26,130.00 L721.26,117.05 722.39,115.93 723.53,115.73 724.66,117.56 725.80,117.13 726.94,117.44 728.07,116.59 729.21,119.00 730.34,117.43 731.48,117.58 732.61,119.00 733.75,117.27 734.89,118.39 736.02,115.08 737.16,116.21 738.29,115.08 739.43,118.21 740.56,118.47 741.70,117.06 742.83,119.63 743.97,117.80 745.11,119.15 746.24,118.57 747.38,117.83 748.51,117.70 749.65,115.24 750.78,115.09 751.92,116.90 753.05,115.97 754.19,120.77 755.33,115.12 756.46,118.57 757.60,117.86 758.73,115.63 759.87,117.73 761.00,118.11 762.14,117.98 763.27,117.47 764.41,115.55 765.55,118.78 766.68,119.08 767.82,117.04 768.95,119.60 770.09,118.26 771.22,116.50 772.36,118.06 773.49,118.67 774.63,119.12 775.77,119.12 776.90,118.90 778.04,118.46 779.17,117.11 780.31,117.58 781.44,119.02 782.58,118.93 783.71,117.34 784.85,119.78 785.99,117.99 787.12,117.41 788.26,117.86 789.39,117.71 790.53,115.95 791.66,118.34 792.80,117.33 793.93,115.51 795.07,115.08 796.21,118.77 797.34,115.99 798.48,117.95 799.61,122.50 800.75,117.89 801.88,118.45 803.02,116.38 804.15,120.85 805.29,117.12 806.43,117.67 807.56,116.32 808.70,117.98 809.83,116.15 810.97,117.34 812.10,119.28 813.24,116.46 814.38,118.09 815.51,115.96 816.65,117.91 817.78,116.51 818.92,115.69 820.05,116.77 821.19,120.27 822.32,117.16 823.46,117.53 824.60,118.63 825.73,119.22 826.87,117.80 828.00,117.01 L828.00,130.00 Z" fill="#e377c2"/>
<line x1="721.26" y1="129.90" x2="828.00" y2="129.90" stroke="#e377c2" stroke-opacity="0.22" stroke-width="1.3"/>
<path d="M829.14,130.00 L829.14,130.00 830.27,130.00 831.41,130.00 832.54,130.00 833.68,130.00 834.82,123.13 835.95,130.00 837.09,130.00 838.22,130.00 839.36,130.00 840.49,130.00 841.63,130.00 842.76,130.00 L842.76,130.00 Z" fill="#7f7f7f"/>
<line x1="829.14" y1="129.90" x2="842.76" y2="129.90" stroke="#7f7f7f" stroke-opacity="0.22" stroke-width="1.3"/>
<path d="M49.00,147.35 L49.00,142.40 50.14,147.35 51.27,147.35 52.41,140.69 53.54,147.35 54.68,147.35 55.81,139.92 56.95,140.17 58.08,141.55 59.22,140.51 60.36,141.60 61.49,138.69 62.63,139.09 63.76,139.60 64.90,147.35 66.03,147.35 67.17,147.35 68.30,140.26 69.44,136.75 70.58,138.66 71.71,147.35 72.85,147.35 73.98,147.35 75.12,138.81 76.25,136.96 77.39,142.97 78.52,141.57 79.66,140.53 80.80,147.35 81.93,147.35 83.07,139.52 84.20,139.75 85.34,147.35 86.47,141.45 87.61,140.49 88.75,140.49 89.88,141.34 91.02,139.70 92.15,147.35 93.29,141.16 94.42,142.51 95.56,141.13 96.69,140.11 97.83,147.35 98.97,147.35 100.10,141.02 101.24,140.30 102.37,143.31 103.51,140.99 104.64,141.59 105.78,144.67 106.91,138.36 108.05,139.99 109.19,147.35 110.32,147.35 111.46,140.72 112.59,137.56 113.73,147.35 114.86,147.35 116.00,147.35 117.13,141.08 118.27,140.65 119.41,139.08 120.54,142.61 121.68,142.70 122.81,147.35 123.95,147.35 125.08,147.35 126.22,139.79 127.35,138.01 128.49,141.51 129.63,138.25 130.76,141.20 131.90,136.59 133.03,147.35 134.17,147.35 135.30,143.92 136.44,141.40 137.57,140.20 138.71,140.73 139.85,143.53 140.98,147.35 142.12,147.35 143.25,136.59 144.39,147.35 145.52,147.35 146.66,147.35 147.79,141.18 148.93,140.55 150.07,141.47 151.20,141.24 152.34,143.05 153.47,140.10 154.61,147.35 155.74,147.35 156.88,136.59 158.01,147.35 159.15,140.79 160.29,142.52 161.42,142.52 162.56,140.86 163.69,142.92 164.83,142.24 165.96,142.47 167.10,147.35 168.23,147.35 169.37,139.04 170.51,139.87 171.64,136.59 172.78,147.35 173.91,147.35 175.05,141.27 176.18,140.14 177.32,138.43 178.46,144.36 179.59,143.90 180.73,138.58 181.86,142.74 183.00,137.33 184.13,147.35 185.27,137.78 186.40,137.36 187.54,147.35 188.68,147.35 189.81,147.35 190.95,140.83 192.08,147.35 193.22,147.35 194.35,147.35 L194.35,147.35 Z" fill="#8c564b"/>
<line x1="49.00" y1="147.25" x2="194.35" y2="147.25" stroke="#8c564b" stroke-opacity="0.22" stroke-width="1.3"/>
<path d="M195.49,147.35 L195.49,147.35 196.62,144.11 197.76,147.35 198.90,147.35 200.03,147.35 201.17,142.36 202.30,147.35 203.44,147.35 204.57,147.35 205.71,147.35 206.84,147.35 207.98,142.41 209.12,147.35 210.25,147.35 211.39,147.35 212.52,143.33 213.66,147.35 214.79,147.35 215.93,147.35 217.06,147.35 218.20,147.35 219.34,147.35 220.47,147.35 221.61,143.33 222.74,147.35 223.88,147.35 225.01,143.20 226.15,147.35 227.28,147.35 228.42,147.35 229.56,147.35 230.69,147.35 231.83,141.33 232.96,147.35 234.10,147.35 235.23,147.35 236.37,147.35 237.50,139.79 238.64,147.35 239.78,147.35 240.91,147.35 242.05,147.35 243.18,147.35 244.32,147.35 245.45,147.35 246.59,142.14 247.72,147.35 248.86,147.35 250.00,147.35 251.13,147.35 252.27,142.79 253.40,147.35 254.54,147.35 255.67,142.05 256.81,147.35 257.95,147.35 259.08,147.35 260.22,141.57 261.35,147.35 262.49,147.35 263.62,147.35 264.76,147.35 265.89,147.35 267.03,147.35 268.17,141.68 269.30,147.35 270.44,147.35 271.57,147.35 272.71,142.37 273.84,147.35 274.98,147.35 276.11,147.35 277.25,147.35 278.39,147.35 279.52,147.35 280.66,147.35 281.79,147.35 282.93,147.35 284.06,147.35 285.20,147.35 286.33,147.35 287.47,147.35 288.61,147.35 289.74,147.35 290.88,147.35 292.01,142.04 293.15,147.35 294.28,147.35 295.42,147.35 296.55,147.35 297.69,147.35 298.83,147.35 299.96,141.95 301.10,147.35 302.23,147.35 303.37,147.35 304.50,147.35 305.64,147.35 306.77,147.35 307.91,147.35 309.05,142.12 310.18,147.35 311.32,147.35 312.45,142.44 313.59,147.35 314.72,147.35 315.86,147.35 316.99,147.35 318.13,147.35 319.27,138.63 320.40,147.35 321.54,147.35 322.67,147.35 323.81,147.35 324.94,147.35 326.08,147.35 327.21,147.35 328.35,147.35 329.49,147.35 330.62,147.35 331.76,147.35 332.89,147.35 334.03,147.35 335.16,147.35 336.30,147.35 337.44,140.39 338.57,147.35 339.71,147.35 340.84,147.35 341.98,147.35 343.11,147.35 344.25,147.35 345.38,139.38 346.52,147.35 347.66,147.35 348.79,147.35 349.93,147.35 351.06,147.35 352.20,147.35 353.33,142.18 354.47,141.54 355.60,147.35 356.74,147.35 357.88,147.35 359.01,147.35 360.15,147.35 361.28,147.35 362.42,147.35 363.55,147.35 364.69,147.35 365.82,147.35 366.96,147.35 368.10,147.35 369.23,142.84 370.37,147.35 371.50,147.35 372.64,147.35 373.77,139.81 374.91,137.92 376.04,147.35 377.18,147.35 378.32,147.35 379.45,140.87 380.59,147.35 381.72,147.35 382.86,147.35 383.99,147.35 385.13,147.35 386.26,147.35 387.40,147.35 388.54,142.40 389.67,147.35 390.81,147.35 391.94,147.35 393.08,147.35 394.21,147.35 395.35,143.19 396.48,147.35 397.62,147.35 398.76,147.35 399.89,147.35 401.03,139.95 402.16,147.35 403.30,137.59 404.43,147.35 405.57,147.35 406.70,147.35 407.84,142.25 408.98,147.35 410.11,147.35 411.25,147.35 412.38,139.40 413.52,147.35 414.65,147.35 415.79,147.35 416.93,147.35 418.06,147.35 419.20,147.35 420.33,147.35 421.47,140.43 422.60,147.35 423.74,147.35 424.87,147.35 426.01,147.35 427.15,147.35 428.28,147.35 429.42,143.20 430.55,147.35 431.69,139.64 432.82,147.35 433.96,141.73 435.09,147.35 436.23,147.35 437.37,147.35 438.50,147.35 439.64,142.06 440.77,147.35 441.91,147.35 443.04,147.35 444.18,147.35 445.31,147.35 446.45,147.35 447.59,147.35 448.72,147.35 449.86,147.35 450.99,147.35 452.13,139.89 453.26,139.91 454.40,147.35 455.53,147.35 456.67,147.35 457.81,147.35 458.94,147.35 460.08,141.45 461.21,142.18 462.35,147.35 463.48,147.35 464.62,147.35 465.75,147.35 466.89,147.35 L466.89,147.35 Z" fill="#17becf"/>
<line x1="195.49" y1="147.25" x2="466.89" y2="147.25" stroke="#17becf" stroke-opacity="0.22" stroke-width="1.3"/>
<path d="M468.03,147.35 L468.03,147.35 469.16,137.39 470.30,136.27 471.43,135.36 472.57,147.35 473.70,147.35 474.84,147.35 475.97,147.35 477.11,147.35 478.25,147.35 479.38,147.35 480.52,136.93 481.65,147.35 482.79,147.35 483.92,147.35 485.06,139.00 486.19,147.35 487.33,141.93 488.47,147.35 489.60,147.35 490.74,147.35 491.87,147.35 493.01,147.35 494.14,147.35 495.28,134.05 496.42,147.35 497.55,147.35 498.69,147.35 499.82,147.35 500.96,147.35 502.09,147.35 503.23,147.35 504.36,147.35 505.50,147.35 506.64,147.35 507.77,147.35 508.91,147.35 510.04,147.35 511.18,147.35 512.31,147.35 513.45,143.39 514.58,147.35 515.72,147.35 516.86,147.35 517.99,147.35 519.13,147.35 520.26,147.35 521.40,147.35 522.53,147.35 523.67,147.35 524.80,147.35 525.94,147.35 527.08,147.35 528.21,147.35 L528.21,147.35 Z" fill="#d62728"/>
<line x1="468.03" y1="147.25" x2="528.21" y2="147.25" stroke="#d62728" stroke-opacity="0.22" stroke-width="1.3"/>
<path d="M529.35,147.35 L529.35,147.35 530.48,147.35 531.62,147.35 532.75,142.80 533.89,147.35 535.02,141.73 536.16,147.35 537.30,147.35 538.43,147.35 539.57,147.35 540.70,147.35 541.84,147.35 542.97,147.35 544.11,141.17 545.24,147.35 546.38,147.35 547.52,147.35 548.65,147.35 549.79,147.35 550.92,142.58 552.06,147.35 553.19,147.35 554.33,147.35 555.46,147.35 556.60,147.35 557.74,147.35 558.87,138.62 560.01,139.48 561.14,147.35 562.28,142.11 563.41,147.35 L563.41,147.35 Z" fill="#bcbd22"/>
<line x1="529.35" y1="147.25" x2="563.41" y2="147.25" stroke="#bcbd22" stroke-opacity="0.22" stroke-width="1.3"/>
<path d="M564.55,147.35 L564.55,147.35 565.68,139.15 566.82,147.35 567.96,147.35 569.09,142.48 570.23,147.35 571.36,147.35 572.50,143.09 L572.50,147.35 Z" fill="#ff7f0e"/>
<line x1="564.55" y1="147.25" x2="572.50" y2="147.25" stroke="#ff7f0e" stroke-opacity="0.22" stroke-width="1.3"/>
<path d="M573.63,147.35 L573.63,147.35 574.77,147.35 575.91,147.35 577.04,142.14 578.18,147.35 579.31,147.35 580.45,147.35 581.58,147.35 582.72,141.00 583.85,147.35 584.99,147.35 586.13,147.35 587.26,147.35 588.40,147.35 589.53,147.35 590.67,141.46 591.80,147.35 592.94,147.35 594.07,142.04 595.21,147.35 596.35,147.35 597.48,139.10 598.62,138.31 599.75,147.35 600.89,147.35 602.02,147.35 603.16,147.35 604.29,147.35 605.43,147.35 606.57,147.35 607.70,147.35 608.84,147.35 609.97,147.35 611.11,147.35 612.24,147.35 613.38,147.35 614.51,147.35 615.65,147.35 616.79,147.35 617.92,147.35 619.06,147.35 620.19,147.35 621.33,147.35 L621.33,147.35 Z" fill="#9467bd"/>
<line x1="573.63" y1="147.25" x2="621.33" y2="147.25" stroke="#9467bd" stroke-opacity="0.22" stroke-width="1.3"/>
<path d="M622.46,147.35 L622.46,143.36 623.60,147.35 624.73,147.35 625.87,147.35 627.01,147.35 628.14,147.35 629.28,147.35 630.41,141.65 631.55,147.35 632.68,147.35 633.82,135.20 634.95,147.35 636.09,147.35 637.23,147.35 638.36,147.35 639.50,147.35 640.63,147.35 641.77,141.91 642.90,147.35 644.04,147.35 645.17,147.35 646.31,140.33 647.45,147.35 648.58,147.35 649.72,141.51 650.85,147.35 651.99,147.35 653.12,147.35 654.26,147.35 655.40,147.35 656.53,147.35 657.67,147.35 658.80,147.35 659.94,147.35 661.07,142.52 662.21,147.35 663.34,147.35 664.48,147.35 665.62,147.35 666.75,147.35 667.89,147.35 669.02,141.69 670.16,147.35 671.29,147.35 672.43,147.35 673.56,141.80 674.70,147.35 675.84,139.49 676.97,147.35 678.11,147.35 679.24,140.56 680.38,147.35 681.51,139.96 682.65,142.04 683.78,147.35 684.92,147.35 686.06,142.65 687.19,147.35 688.33,147.35 689.46,147.35 690.60,147.35 691.73,141.59 692.87,147.35 694.00,147.35 695.14,143.02 696.28,147.35 697.41,142.51 698.55,147.35 L698.55,147.35 Z" fill="#1f77b4"/>
<line x1="622.46" y1="147.25" x2="698.55" y2="147.25" stroke="#1f77b4" stroke-opacity="0.22" stroke-width="1.3"/>
<path d="M699.68,147.35 L699.68,147.35 700.82,142.57 701.95,147.35 703.09,147.35 704.22,147.35 705.36,147.35 706.50,147.35 707.63,147.35 708.77,147.35 709.90,147.35 711.04,142.91 712.17,147.35 713.31,147.35 714.44,141.68 715.58,147.35 716.72,147.35 717.85,147.35 718.99,147.35 720.12,147.35 L720.12,147.35 Z" fill="#2ca02c"/>
<line x1="699.68" y1="147.25" x2="720.12" y2="147.25" stroke="#2ca02c" stroke-opacity="0.22" stroke-width="1.3"/>
<path d="M721.26,147.35 L721.26,133.77 722.39,131.73 723.53,145.22 724.66,134.49 725.80,135.89 726.94,134.54 728.07,134.77 729.21,134.41 730.34,133.64 731.48,135.78 732.61,134.78 733.75,132.55 734.89,135.55 736.02,134.24 737.16,134.47 738.29,136.05 739.43,143.80 740.56,133.64 741.70,134.39 742.83,133.29 743.97,137.66 745.11,135.14 746.24,138.09 747.38,135.79 748.51,137.37 749.65,134.07 750.78,142.11 751.92,135.78 753.05,133.29 754.19,133.92 755.33,134.87 756.46,140.69 757.60,139.06 758.73,136.49 759.87,136.97 761.00,137.09 762.14,136.39 763.27,138.04 764.41,131.73 765.55,134.32 766.68,135.19 767.82,133.62 768.95,136.55 770.09,131.73 771.22,146.63 772.36,133.96 773.49,135.43 774.63,145.60 775.77,137.48 776.90,132.30 778.04,135.45 779.17,137.30 780.31,139.18 781.44,135.48 782.58,134.73 783.71,140.75 784.85,140.82 785.99,137.32 787.12,135.84 788.26,136.06 789.39,131.98 790.53,144.09 791.66,137.10 792.80,136.49 793.93,134.49 795.07,137.38 796.21,135.05 797.34,144.86 798.48,135.97 799.61,137.48 800.75,134.76 801.88,134.97 803.02,136.05 804.15,134.48 805.29,132.02 806.43,145.09 807.56,135.33 808.70,135.43 809.83,134.86 810.97,133.22 812.10,134.47 813.24,133.80 814.38,136.36 815.51,136.33 816.65,136.32 817.78,133.72 818.92,136.00 820.05,133.34 821.19,134.42 822.32,134.53 823.46,136.11 824.60,139.92 825.73,142.81 826.87,135.19 828.00,146.78 L828.00,147.35 Z" fill="#e377c2"/>
<line x1="721.26" y1="147.25" x2="828.00" y2="147.25" stroke="#e377c2" stroke-opacity="0.22" stroke-width="1.3"/>
<path d="M829.14,147.35 L829.14,147.35 830.27,147.35 831.41,147.35 832.54,147.35 833.68,147.35 834.82,139.79 835.95,147.35 837.09,147.35 838.22,147.35 839.36,147.35 840.49,143.16 841.63,147.35 842.76,147.35 L842.76,147.35 Z" fill="#7f7f7f"/>
<line x1="829.14" y1="147.25" x2="842.76" y2="147.25" stroke="#7f7f7f" stroke-opacity="0.22" stroke-width="1.3"/>
<path d="M49.00,164.60 L49.00,155.26 50.14,156.70 51.27,154.19 52.41,154.07 53.54,155.66 54.68,155.83 55.81,156.64 56.95,154.22 58.08,153.43 59.22,154.70 60.36,154.34 61.49,155.14 62.63,156.33 63.76,153.99 64.90,156.00 66.03,155.22 67.17,154.57 68.30,153.36 69.44,153.48 70.58,153.00 71.71,153.91 72.85,157.79 73.98,153.24 75.12,154.42 76.25,154.78 77.39,155.07 78.52,154.74 79.66,157.35 80.80,156.65 81.93,156.87 83.07,155.05 84.20,154.82 85.34,153.14 86.47,156.27 87.61,155.63 88.75,154.08 89.88,154.72 91.02,154.48 92.15,152.31 93.29,154.30 94.42,155.57 95.56,155.88 96.69,154.73 97.83,154.84 98.97,156.09 100.10,155.65 101.24,154.81 102.37,155.02 103.51,155.79 104.64,154.44 105.78,154.44 106.91,156.23 108.05,156.88 109.19,154.14 110.32,159.58 111.46,155.53 112.59,153.80 113.73,152.87 114.86,152.11 116.00,155.39 117.13,152.11 118.27,154.41 119.41,152.84 120.54,152.66 121.68,153.23 122.81,154.43 123.95,155.54 125.08,153.99 126.22,154.76 127.35,157.07 128.49,152.11 129.63,152.96 130.76,152.75 131.90,155.19 133.03,153.02 134.17,154.96 135.30,153.60 136.44,154.75 137.57,156.09 138.71,157.55 139.85,157.07 140.98,156.19 142.12,154.76 143.25,155.54 144.39,154.50 145.52,154.66 146.66,152.98 147.79,153.53 148.93,154.65 150.07,153.98 151.20,155.43 152.34,154.91 153.47,153.80 154.61,155.79 155.74,154.16 156.88,155.40 158.01,153.73 159.15,152.22 160.29,154.36 161.42,153.52 162.56,154.15 163.69,154.16 164.83,154.14 165.96,152.58 167.10,152.11 168.23,153.58 169.37,154.48 170.51,152.90 171.64,153.87 172.78,152.85 173.91,153.23 175.05,153.28 176.18,153.20 177.32,154.37 178.46,154.65 179.59,155.57 180.73,154.96 181.86,155.63 183.00,154.63 184.13,155.29 185.27,154.18 186.40,153.57 187.54,154.97 188.68,154.10 189.81,154.54 190.95,153.00 192.08,152.45 193.22,152.96 194.35,154.77 L194.35,164.60 Z" fill="#8c564b"/>
<line x1="49.00" y1="164.50" x2="194.35" y2="164.50" stroke="#8c564b" stroke-opacity="0.22" stroke-width="1.3"/>
<path d="M195.49,164.60 L195.49,154.36 196.62,149.15 197.76,150.70 198.90,149.04 200.03,149.79 201.17,148.99 202.30,148.98 203.44,149.24 204.57,148.98 205.71,150.87 206.84,148.98 207.98,149.72 209.12,149.99 210.25,150.59 211.39,150.12 212.52,148.98 213.66,151.45 214.79,149.60 215.93,150.29 217.06,148.98 218.20,150.55 219.34,149.78 220.47,149.90 221.61,149.89 222.74,151.09 223.88,150.55 225.01,153.58 226.15,151.48 227.28,154.71 228.42,149.88 229.56,150.60 230.69,149.47 231.83,152.21 232.96,151.81 234.10,151.23 235.23,150.36 236.37,150.36 237.50,150.69 238.64,151.02 239.78,149.76 240.91,150.93 242.05,151.27 243.18,151.97 244.32,149.12 245.45,154.17 246.59,154.39 247.72,149.70 248.86,150.17 250.00,151.78 251.13,151.09 252.27,150.27 253.40,152.57 254.54,151.53 255.67,150.52 256.81,150.42 257.95,148.99 259.08,148.98 260.22,150.23 261.35,151.28 262.49,149.84 263.62,148.98 264.76,149.66 265.89,149.71 267.03,148.98 268.17,151.91 269.30,150.51 270.44,151.28 271.57,150.55 272.71,155.38 273.84,149.67 274.98,151.24 276.11,151.56 277.25,152.18 278.39,149.70 279.52,150.21 280.66,149.91 281.79,151.07 282.93,150.68 284.06,149.31 285.20,150.39 286.33,149.19 287.47,149.20 288.61,150.53 289.74,151.42 290.88,149.20 292.01,149.74 293.15,154.37 294.28,151.35 295.42,151.79 296.55,152.10 297.69,150.92 298.83,149.38 299.96,150.30 301.10,151.09 302.23,151.06 303.37,150.91 304.50,151.88 305.64,150.68 306.77,150.79 307.91,152.98 309.05,151.24 310.18,149.41 311.32,150.32 312.45,150.07 313.59,150.26 314.72,150.36 315.86,149.18 316.99,150.53 318.13,151.34 319.27,152.94 320.40,150.53 321.54,152.04 322.67,152.37 323.81,154.01 324.94,149.56 326.08,151.73 327.21,150.02 328.35,149.39 329.49,150.77 330.62,149.30 331.76,151.45 332.89,151.40 334.03,152.01 335.16,151.42 336.30,149.39 337.44,151.52 338.57,151.08 339.71,150.58 340.84,150.04 341.98,150.44 343.11,149.36 344.25,150.40 345.38,150.85 346.52,150.16 347.66,150.22 348.79,150.79 349.93,154.28 351.06,148.98 352.20,150.90 353.33,150.53 354.47,149.43 355.60,151.27 356.74,151.73 357.88,151.60 359.01,150.66 360.15,150.45 361.28,155.27 362.42,150.91 363.55,152.28 364.69,150.16 365.82,152.21 366.96,150.92 368.10,152.73 369.23,151.05 370.37,151.93 371.50,151.88 372.64,152.74 373.77,152.41 374.91,150.50 376.04,150.87 377.18,149.99 378.32,151.15 379.45,150.51 380.59,152.26 381.72,151.14 382.86,149.64 383.99,150.84 385.13,150.38 386.26,151.70 387.40,150.60 388.54,151.86 389.67,150.53 390.81,150.57 391.94,149.91 393.08,154.03 394.21,150.42 395.35,149.56 396.48,150.35 397.62,149.59 398.76,149.63 399.89,150.47 401.03,150.49 402.16,149.98 403.30,154.44 404.43,149.70 405.57,151.00 406.70,148.98 407.84,150.26 408.98,151.22 410.11,149.52 411.25,149.68 412.38,148.98 413.52,152.17 414.65,149.79 415.79,149.10 416.93,150.14 418.06,153.01 419.20,148.98 420.33,148.98 421.47,148.98 422.60,149.18 423.74,150.46 424.87,149.28 426.01,150.00 427.15,149.85 428.28,151.13 429.42,149.77 430.55,150.14 431.69,150.45 432.82,149.35 433.96,150.24 435.09,152.36 436.23,151.68 437.37,152.42 438.50,151.39 439.64,150.77 440.77,150.98 441.91,155.55 443.04,150.13 444.18,150.74 445.31,151.01 446.45,151.12 447.59,150.48 448.72,148.98 449.86,150.55 450.99,148.98 452.13,148.98 453.26,149.53 454.40,149.19 455.53,149.97 456.67,149.46 457.81,149.07 458.94,149.86 460.08,149.01 461.21,149.48 462.35,153.66 463.48,149.76 464.62,155.99 465.75,151.54 466.89,150.59 L466.89,164.60 Z" fill="#17becf"/>
<line x1="195.49" y1="164.50" x2="466.89" y2="164.50" stroke="#17becf" stroke-opacity="0.22" stroke-width="1.3"/>
<path d="M468.03,164.60 L468.03,154.88 469.16,164.60 470.30,164.60 471.43,164.60 472.57,160.81 473.70,164.60 474.84,164.60 475.97,164.60 477.11,164.60 478.25,164.60 479.38,164.60 480.52,164.60 481.65,164.60 482.79,164.60 483.92,164.60 485.06,164.60 486.19,164.60 487.33,164.60 488.47,164.60 489.60,164.60 490.74,164.60 491.87,164.60 493.01,164.60 494.14,164.60 495.28,164.60 496.42,156.17 497.55,164.60 498.69,164.60 499.82,164.60 500.96,164.60 502.09,160.29 503.23,164.60 504.36,164.60 505.50,164.60 506.64,164.60 507.77,164.60 508.91,164.60 510.04,154.00 511.18,164.60 512.31,164.60 513.45,164.60 514.58,164.60 515.72,164.60 516.86,164.60 517.99,164.60 519.13,164.60 520.26,164.60 521.40,164.60 522.53,164.60 523.67,164.60 524.80,164.60 525.94,164.60 527.08,164.60 528.21,164.60 L528.21,164.60 Z" fill="#d62728"/>
<line x1="468.03" y1="164.50" x2="528.21" y2="164.50" stroke="#d62728" stroke-opacity="0.22" stroke-width="1.3"/>
<path d="M529.35,164.60 L529.35,162.93 530.48,164.60 531.62,164.60 532.75,164.60 533.89,164.60 535.02,164.60 536.16,164.60 537.30,164.60 538.43,160.03 539.57,164.60 540.70,164.60 541.84,164.60 542.97,164.60 544.11,164.60 545.24,164.60 546.38,164.60 547.52,164.60 548.65,164.60 549.79,164.60 550.92,158.85 552.06,159.87 553.19,164.60 554.33,164.60 555.46,164.60 556.60,164.60 557.74,164.60 558.87,164.60 560.01,164.60 561.14,160.14 562.28,164.60 563.41,164.60 L563.41,164.60 Z" fill="#bcbd22"/>
<line x1="529.35" y1="164.50" x2="563.41" y2="164.50" stroke="#bcbd22" stroke-opacity="0.22" stroke-width="1.3"/>
<path d="M564.55,164.60 L564.55,164.60 565.68,162.23 566.82,164.60 567.96,164.60 569.09,164.60 570.23,164.60 571.36,164.60 572.50,164.60 L572.50,164.60 Z" fill="#ff7f0e"/>
<line x1="564.55" y1="164.50" x2="572.50" y2="164.50" stroke="#ff7f0e" stroke-opacity="0.22" stroke-width="1.3"/>
<path d="M573.63,164.60 L573.63,164.60 574.77,164.60 575.91,164.60 577.04,164.60 578.18,164.60 579.31,164.60 580.45,164.60 581.58,164.60 582.72,164.60 583.85,164.60 584.99,164.60 586.13,164.60 587.26,164.60 588.40,164.60 589.53,164.60 590.67,164.60 591.80,164.60 592.94,164.60 594.07,160.02 595.21,164.60 596.35,164.60 597.48,164.60 598.62,164.60 599.75,164.60 600.89,164.60 602.02,164.60 603.16,164.60 604.29,164.60 605.43,164.60 606.57,164.60 607.70,164.60 608.84,164.60 609.97,164.60 611.11,164.60 612.24,164.60 613.38,164.60 614.51,164.60 615.65,164.60 616.79,164.60 617.92,164.60 619.06,164.60 620.19,164.60 621.33,164.60 L621.33,164.60 Z" fill="#9467bd"/>
<line x1="573.63" y1="164.50" x2="621.33" y2="164.50" stroke="#9467bd" stroke-opacity="0.22" stroke-width="1.3"/>
<path d="M622.46,164.60 L622.46,164.60 623.60,164.60 624.73,164.60 625.87,164.60 627.01,164.60 628.14,164.60 629.28,164.60 630.41,164.60 631.55,164.60 632.68,164.60 633.82,160.34 634.95,164.60 636.09,164.60 637.23,164.60 638.36,164.60 639.50,164.60 640.63,164.60 641.77,164.60 642.90,164.60 644.04,164.60 645.17,164.60 646.31,164.60 647.45,164.60 648.58,164.60 649.72,164.60 650.85,164.60 651.99,164.60 653.12,164.60 654.26,164.60 655.40,164.60 656.53,164.60 657.67,164.60 658.80,164.60 659.94,164.60 661.07,164.60 662.21,164.60 663.34,164.60 664.48,164.60 665.62,164.60 666.75,164.60 667.89,164.60 669.02,164.60 670.16,164.60 671.29,164.60 672.43,164.60 673.56,164.60 674.70,164.60 675.84,164.60 676.97,164.60 678.11,161.33 679.24,164.60 680.38,164.60 681.51,164.60 682.65,164.60 683.78,164.60 684.92,164.60 686.06,164.60 687.19,164.60 688.33,164.60 689.46,164.60 690.60,164.60 691.73,164.60 692.87,164.60 694.00,164.60 695.14,164.60 696.28,164.60 697.41,164.60 698.55,164.60 L698.55,164.60 Z" fill="#1f77b4"/>
<line x1="622.46" y1="164.50" x2="698.55" y2="164.50" stroke="#1f77b4" stroke-opacity="0.22" stroke-width="1.3"/>
<path d="M699.68,164.60 L699.68,164.60 700.82,153.70 701.95,158.70 703.09,164.60 704.22,164.60 705.36,164.60 706.50,164.60 707.63,164.60 708.77,164.60 709.90,164.60 711.04,164.60 712.17,164.60 713.31,164.60 714.44,164.60 715.58,164.60 716.72,164.60 717.85,164.60 718.99,164.60 720.12,164.60 L720.12,164.60 Z" fill="#2ca02c"/>
<line x1="699.68" y1="164.50" x2="720.12" y2="164.50" stroke="#2ca02c" stroke-opacity="0.22" stroke-width="1.3"/>
<path d="M721.26,164.60 L721.26,164.60 722.39,164.60 723.53,160.64 724.66,164.60 725.80,164.60 726.94,164.60 728.07,164.60 729.21,164.60 730.34,164.60 731.48,164.60 732.61,162.33 733.75,164.60 734.89,164.60 736.02,164.60 737.16,164.60 738.29,164.60 739.43,164.60 740.56,164.60 741.70,164.60 742.83,164.60 743.97,164.60 745.11,164.60 746.24,164.60 747.38,164.60 748.51,160.86 749.65,164.60 750.78,164.60 751.92,164.60 753.05,164.60 754.19,164.60 755.33,164.60 756.46,164.60 757.60,164.60 758.73,164.60 759.87,164.60 761.00,164.60 762.14,164.60 763.27,164.60 764.41,164.60 765.55,164.60 766.68,164.60 767.82,160.84 768.95,164.60 770.09,164.60 771.22,164.60 772.36,164.60 773.49,164.60 774.63,159.68 775.77,164.60 776.90,164.60 778.04,164.60 779.17,164.60 780.31,164.60 781.44,164.60 782.58,164.60 783.71,164.60 784.85,164.60 785.99,160.93 787.12,164.60 788.26,164.60 789.39,164.60 790.53,164.60 791.66,164.60 792.80,164.60 793.93,164.60 795.07,164.60 796.21,164.60 797.34,164.60 798.48,164.60 799.61,164.60 800.75,164.60 801.88,164.60 803.02,164.60 804.15,164.60 805.29,162.06 806.43,164.60 807.56,164.60 808.70,164.60 809.83,164.60 810.97,164.60 812.10,164.60 813.24,164.60 814.38,164.60 815.51,164.60 816.65,164.60 817.78,164.60 818.92,164.60 820.05,164.60 821.19,164.60 822.32,164.60 823.46,164.60 824.60,164.60 825.73,164.60 826.87,164.60 828.00,164.60 L828.00,164.60 Z" fill="#e377c2"/>
<line x1="721.26" y1="164.50" x2="828.00" y2="164.50" stroke="#e377c2" stroke-opacity="0.22" stroke-width="1.3"/>
<path d="M829.14,164.60 L829.14,164.60 830.27,164.60 831.41,164.60 832.54,164.60 833.68,161.62 834.82,164.60 835.95,164.60 837.09,160.12 838.22,164.60 839.36,160.05 840.49,164.60 841.63,158.51 842.76,164.60 L842.76,164.60 Z" fill="#7f7f7f"/>
<line x1="829.14" y1="164.50" x2="842.76" y2="164.50" stroke="#7f7f7f" stroke-opacity="0.22" stroke-width="1.3"/>
<path d="M49.00,181.80 L49.00,174.11 50.14,180.11 51.27,175.38 52.41,173.46 53.54,171.72 54.68,173.43 55.81,173.39 56.95,175.34 58.08,172.71 59.22,172.19 60.36,173.67 61.49,176.07 62.63,175.35 63.76,173.15 64.90,171.77 66.03,172.64 67.17,171.31 68.30,173.56 69.44,178.89 70.58,173.81 71.71,173.57 72.85,176.02 73.98,173.55 75.12,173.04 76.25,176.92 77.39,174.05 78.52,175.45 79.66,173.94 80.80,179.17 81.93,173.56 83.07,173.86 84.20,174.10 85.34,170.42 86.47,174.81 87.61,174.55 88.75,172.91 89.88,175.03 91.02,174.34 92.15,173.06 93.29,170.56 94.42,174.70 95.56,171.93 96.69,173.28 97.83,173.52 98.97,173.89 100.10,174.15 101.24,173.24 102.37,175.55 103.51,172.18 104.64,173.14 105.78,176.44 106.91,171.92 108.05,173.35 109.19,172.02 110.32,170.56 111.46,173.34 112.59,172.08 113.73,172.80 114.86,173.81 116.00,173.85 117.13,172.41 118.27,175.43 119.41,173.35 120.54,172.79 121.68,173.96 122.81,174.58 123.95,175.27 125.08,170.30 126.22,175.91 127.35,178.67 128.49,173.77 129.63,174.70 130.76,176.49 131.90,173.44 133.03,172.71 134.17,174.12 135.30,176.71 136.44,174.25 137.57,174.58 138.71,172.46 139.85,176.12 140.98,174.69 142.12,176.87 143.25,172.32 144.39,172.52 145.52,178.32 146.66,175.37 147.79,175.89 148.93,170.58 150.07,175.36 151.20,174.85 152.34,174.74 153.47,169.58 154.61,174.94 155.74,173.09 156.88,173.71 158.01,174.44 159.15,174.26 160.29,174.74 161.42,175.41 162.56,171.39 163.69,175.47 164.83,172.45 165.96,172.92 167.10,174.91 168.23,176.84 169.37,175.69 170.51,174.90 171.64,175.51 172.78,176.33 173.91,175.33 175.05,173.23 176.18,175.53 177.32,177.56 178.46,173.88 179.59,172.46 180.73,175.35 181.86,172.10 183.00,172.85 184.13,177.87 185.27,173.88 186.40,175.92 187.54,172.54 188.68,169.79 189.81,173.49 190.95,172.56 192.08,173.67 193.22,173.53 194.35,169.62 L194.35,181.80 Z" fill="#8c564b"/>
<line x1="49.00" y1="181.70" x2="194.35" y2="181.70" stroke="#8c564b" stroke-opacity="0.22" stroke-width="1.3"/>
<path d="M195.49,181.80 L195.49,169.01 196.62,167.89 197.76,168.85 198.90,167.65 200.03,168.65 201.17,169.68 202.30,169.19 203.44,172.07 204.57,175.32 205.71,167.57 206.84,166.88 207.98,166.88 209.12,167.63 210.25,176.01 211.39,168.58 212.52,167.25 213.66,168.02 214.79,169.38 215.93,168.23 217.06,168.58 218.20,170.76 219.34,168.56 220.47,169.11 221.61,169.52 222.74,179.03 223.88,167.41 225.01,167.41 226.15,167.16 227.28,169.48 228.42,168.71 229.56,173.08 230.69,169.22 231.83,168.32 232.96,168.92 234.10,166.88 235.23,173.11 236.37,166.88 237.50,175.62 238.64,167.79 239.78,167.86 240.91,167.06 242.05,168.53 243.18,167.33 244.32,168.85 245.45,169.45 246.59,167.41 247.72,168.32 248.86,167.60 250.00,168.40 251.13,169.74 252.27,167.10 253.40,168.36 254.54,166.88 255.67,168.17 256.81,168.71 257.95,167.13 259.08,167.38 260.22,167.86 261.35,169.09 262.49,167.30 263.62,169.69 264.76,168.70 265.89,168.64 267.03,168.40 268.17,167.32 269.30,168.45 270.44,167.10 271.57,167.11 272.71,169.51 273.84,168.79 274.98,168.67 276.11,177.78 277.25,168.04 278.39,169.87 279.52,167.44 280.66,167.49 281.79,168.12 282.93,168.99 284.06,167.96 285.20,168.16 286.33,167.24 287.47,167.79 288.61,166.89 289.74,167.95 290.88,175.51 292.01,178.43 293.15,177.86 294.28,167.27 295.42,168.92 296.55,166.97 297.69,176.76 298.83,167.93 299.96,168.83 301.10,168.31 302.23,167.66 303.37,167.63 304.50,168.09 305.64,166.88 306.77,167.37 307.91,179.30 309.05,180.08 310.18,166.88 311.32,166.88 312.45,166.88 313.59,175.32 314.72,166.88 315.86,167.02 316.99,168.11 318.13,178.66 319.27,177.66 320.40,169.01 321.54,167.11 322.67,170.14 323.81,169.05 324.94,172.08 326.08,167.95 327.21,167.37 328.35,179.27 329.49,168.40 330.62,168.01 331.76,169.54 332.89,168.45 334.03,166.88 335.16,167.34 336.30,167.75 337.44,172.53 338.57,168.43 339.71,168.10 340.84,168.48 341.98,168.42 343.11,166.88 344.25,168.65 345.38,169.12 346.52,168.60 347.66,169.23 348.79,169.08 349.93,168.81 351.06,167.88 352.20,168.22 353.33,169.51 354.47,168.43 355.60,173.17 356.74,168.40 357.88,179.79 359.01,167.02 360.15,175.06 361.28,167.52 362.42,166.88 363.55,166.88 364.69,176.50 365.82,167.01 366.96,168.52 368.10,168.93 369.23,167.29 370.37,167.64 371.50,175.65 372.64,167.58 373.77,167.27 374.91,168.38 376.04,167.00 377.18,166.88 378.32,176.68 379.45,175.32 380.59,168.85 381.72,168.37 382.86,178.96 383.99,166.88 385.13,167.51 386.26,167.84 387.40,169.11 388.54,167.61 389.67,167.11 390.81,169.01 391.94,167.02 393.08,167.25 394.21,167.06 395.35,168.47 396.48,167.03 397.62,168.36 398.76,172.18 399.89,167.34 401.03,168.67 402.16,166.88 403.30,166.88 404.43,170.01 405.57,166.88 406.70,175.90 407.84,167.64 408.98,166.93 410.11,172.29 411.25,167.37 412.38,168.45 413.52,168.44 414.65,169.41 415.79,168.15 416.93,169.79 418.06,169.93 419.20,173.90 420.33,169.98 421.47,167.64 422.60,169.75 423.74,168.90 424.87,178.83 426.01,168.66 427.15,167.67 428.28,167.75 429.42,168.83 430.55,168.79 431.69,168.21 432.82,168.13 433.96,175.97 435.09,169.75 436.23,174.55 437.37,167.17 438.50,168.28 439.64,176.32 440.77,168.53 441.91,169.40 443.04,169.50 444.18,170.46 445.31,179.83 446.45,168.55 447.59,169.18 448.72,167.94 449.86,167.30 450.99,168.46 452.13,167.94 453.26,169.75 454.40,173.99 455.53,168.20 456.67,169.11 457.81,169.50 458.94,171.27 460.08,177.18 461.21,167.61 462.35,168.56 463.48,167.73 464.62,168.35 465.75,169.38 466.89,168.33 L466.89,181.80 Z" fill="#17becf"/>
<line x1="195.49" y1="181.70" x2="466.89" y2="181.70" stroke="#17becf" stroke-opacity="0.22" stroke-width="1.3"/>
<path d="M468.03,181.80 L468.03,179.42 469.16,181.80 470.30,181.80 471.43,181.80 472.57,181.80 473.70,181.80 474.84,181.80 475.97,181.80 477.11,181.80 478.25,181.80 479.38,181.80 480.52,181.80 481.65,181.80 482.79,177.93 483.92,181.80 485.06,181.80 486.19,181.80 487.33,181.80 488.47,181.80 489.60,181.80 490.74,181.80 491.87,181.80 493.01,181.80 494.14,181.80 495.28,181.80 496.42,173.17 497.55,181.80 498.69,181.80 499.82,173.58 500.96,181.80 502.09,181.80 503.23,181.80 504.36,181.80 505.50,181.80 506.64,181.80 507.77,181.80 508.91,181.80 510.04,177.03 511.18,181.80 512.31,181.80 513.45,181.80 514.58,181.80 515.72,181.80 516.86,181.80 517.99,181.80 519.13,181.80 520.26,181.80 521.40,181.80 522.53,181.80 523.67,181.80 524.80,181.80 525.94,181.80 527.08,181.80 528.21,181.80 L528.21,181.80 Z" fill="#d62728"/>
<line x1="468.03" y1="181.70" x2="528.21" y2="181.70" stroke="#d62728" stroke-opacity="0.22" stroke-width="1.3"/>
<path d="M529.35,181.80 L529.35,181.80 530.48,181.80 531.62,181.80 532.75,181.80 533.89,181.80 535.02,181.80 536.16,181.80 537.30,181.80 538.43,181.80 539.57,181.80 540.70,181.80 541.84,181.80 542.97,181.80 544.11,181.80 545.24,181.80 546.38,181.80 547.52,181.80 548.65,177.54 549.79,181.80 550.92,181.80 552.06,181.80 553.19,181.80 554.33,181.80 555.46,181.80 556.60,181.80 557.74,181.80 558.87,181.80 560.01,181.80 561.14,181.80 562.28,181.80 563.41,181.80 L563.41,181.80 Z" fill="#bcbd22"/>
<line x1="529.35" y1="181.70" x2="563.41" y2="181.70" stroke="#bcbd22" stroke-opacity="0.22" stroke-width="1.3"/>
<path d="M564.55,181.80 L564.55,181.80 565.68,181.80 566.82,176.12 567.96,176.47 569.09,181.80 570.23,181.80 571.36,181.80 572.50,181.80 L572.50,181.80 Z" fill="#ff7f0e"/>
<line x1="564.55" y1="181.70" x2="572.50" y2="181.70" stroke="#ff7f0e" stroke-opacity="0.22" stroke-width="1.3"/>
<path d="M573.63,181.80 L573.63,181.80 574.77,181.80 575.91,181.80 577.04,181.80 578.18,181.80 579.31,181.80 580.45,181.80 581.58,181.80 582.72,181.80 583.85,181.80 584.99,181.80 586.13,181.80 587.26,181.80 588.40,181.80 589.53,181.80 590.67,181.80 591.80,181.80 592.94,181.80 594.07,181.80 595.21,181.80 596.35,181.80 597.48,181.80 598.62,181.80 599.75,181.80 600.89,181.80 602.02,181.80 603.16,181.80 604.29,181.80 605.43,181.80 606.57,181.80 607.70,181.80 608.84,181.80 609.97,181.80 611.11,181.80 612.24,181.80 613.38,181.80 614.51,181.80 615.65,181.80 616.79,181.80 617.92,181.80 619.06,181.80 620.19,181.80 621.33,181.80 L621.33,181.80 Z" fill="#9467bd"/>
<line x1="573.63" y1="181.70" x2="621.33" y2="181.70" stroke="#9467bd" stroke-opacity="0.22" stroke-width="1.3"/>
<path d="M622.46,181.80 L622.46,181.80 623.60,181.80 624.73,181.80 625.87,181.80 627.01,181.80 628.14,181.80 629.28,181.80 630.41,181.80 631.55,181.80 632.68,181.80 633.82,181.80 634.95,181.80 636.09,181.80 637.23,181.80 638.36,181.80 639.50,179.82 640.63,178.45 641.77,181.80 642.90,181.80 644.04,181.80 645.17,181.80 646.31,181.80 647.45,181.80 648.58,181.80 649.72,181.80 650.85,181.80 651.99,181.80 653.12,181.80 654.26,181.80 655.40,181.80 656.53,178.63 657.67,181.80 658.80,181.80 659.94,181.80 661.07,181.80 662.21,181.80 663.34,181.80 664.48,181.80 665.62,181.80 666.75,181.80 667.89,181.80 669.02,181.80 670.16,181.80 671.29,181.80 672.43,181.80 673.56,181.80 674.70,181.80 675.84,181.80 676.97,181.80 678.11,181.80 679.24,181.80 680.38,181.80 681.51,181.80 682.65,181.80 683.78,181.80 684.92,181.80 686.06,181.80 687.19,178.84 688.33,181.80 689.46,181.80 690.60,181.80 691.73,181.80 692.87,181.80 694.00,181.80 695.14,181.80 696.28,181.80 697.41,181.80 698.55,181.80 L698.55,181.80 Z" fill="#1f77b4"/>
<line x1="622.46" y1="181.70" x2="698.55" y2="181.70" stroke="#1f77b4" stroke-opacity="0.22" stroke-width="1.3"/>
<path d="M699.68,181.80 L699.68,181.80 700.82,179.25 701.95,181.80 703.09,181.80 704.22,181.80 705.36,181.80 706.50,181.80 707.63,181.80 708.77,181.80 709.90,181.80 711.04,181.80 712.17,181.80 713.31,181.80 714.44,181.80 715.58,181.80 716.72,181.80 717.85,181.80 718.99,181.80 720.12,181.80 L720.12,181.80 Z" fill="#2ca02c"/>
<line x1="699.68" y1="181.70" x2="720.12" y2="181.70" stroke="#2ca02c" stroke-opacity="0.22" stroke-width="1.3"/>
<path d="M721.26,181.80 L721.26,181.80 722.39,181.80 723.53,181.80 724.66,181.80 725.80,181.80 726.94,181.80 728.07,181.80 729.21,181.80 730.34,181.80 731.48,181.80 732.61,181.80 733.75,181.80 734.89,181.80 736.02,181.80 737.16,181.80 738.29,181.80 739.43,181.80 740.56,181.80 741.70,181.80 742.83,181.80 743.97,181.80 745.11,181.80 746.24,181.80 747.38,181.80 748.51,181.80 749.65,181.80 750.78,181.80 751.92,181.80 753.05,181.80 754.19,181.80 755.33,181.80 756.46,181.80 757.60,181.80 758.73,181.80 759.87,181.80 761.00,181.80 762.14,181.80 763.27,181.80 764.41,181.80 765.55,181.80 766.68,181.80 767.82,181.80 768.95,181.80 770.09,181.80 771.22,181.80 772.36,179.06 773.49,181.80 774.63,181.80 775.77,181.80 776.90,178.71 778.04,181.80 779.17,181.80 780.31,181.80 781.44,178.19 782.58,181.80 783.71,181.80 784.85,181.80 785.99,181.80 787.12,181.80 788.26,181.80 789.39,181.80 790.53,181.80 791.66,181.80 792.80,181.80 793.93,181.80 795.07,181.80 796.21,181.80 797.34,181.80 798.48,181.80 799.61,181.80 800.75,181.80 801.88,181.80 803.02,181.80 804.15,181.80 805.29,181.80 806.43,181.80 807.56,181.80 808.70,181.80 809.83,181.80 810.97,181.80 812.10,181.80 813.24,181.80 814.38,181.80 815.51,181.80 816.65,181.80 817.78,181.80 818.92,181.80 820.05,181.80 821.19,181.80 822.32,181.80 823.46,181.80 824.60,181.80 825.73,181.80 826.87,181.80 828.00,181.80 L828.00,181.80 Z" fill="#e377c2"/>
<line x1="721.26" y1="181.70" x2="828.00" y2="181.70" stroke="#e377c2" stroke-opacity="0.22" stroke-width="1.3"/>
<path d="M829.14,181.80 L829.14,181.80 830.27,181.80 831.41,181.80 832.54,181.80 833.68,181.80 834.82,173.09 835.95,181.80 837.09,181.80 838.22,181.80 839.36,181.80 840.49,181.80 841.63,179.57 842.76,181.80 L842.76,181.80 Z" fill="#7f7f7f"/>
<line x1="829.14" y1="181.70" x2="842.76" y2="181.70" stroke="#7f7f7f" stroke-opacity="0.22" stroke-width="1.3"/>
<line x1="195.50" y1="78.0" x2="195.50" y2="182.5" stroke="#1f77b4" stroke-width="0.8" stroke-opacity="0.8" stroke-dasharray="2.1,1.1"/>
<line x1="467.50" y1="78.0" x2="467.50" y2="182.5" stroke="#1f77b4" stroke-width="0.8" stroke-opacity="0.8" stroke-dasharray="2.1,1.1"/>
<line x1="529.50" y1="78.0" x2="529.50" y2="182.5" stroke="#1f77b4" stroke-width="0.8" stroke-opacity="0.8" stroke-dasharray="2.1,1.1"/>
<line x1="564.50" y1="78.0" x2="564.50" y2="182.5" stroke="#1f77b4" stroke-width="0.8" stroke-opacity="0.8" stroke-dasharray="2.1,1.1"/>
<line x1="573.50" y1="78.0" x2="573.50" y2="182.5" stroke="#1f77b4" stroke-width="0.8" stroke-opacity="0.8" stroke-dasharray="2.1,1.1"/>
<line x1="622.50" y1="78.0" x2="622.50" y2="182.5" stroke="#1f77b4" stroke-width="0.8" stroke-opacity="0.8" stroke-dasharray="2.1,1.1"/>
<line x1="699.50" y1="78.0" x2="699.50" y2="182.5" stroke="#1f77b4" stroke-width="0.8" stroke-opacity="0.8" stroke-dasharray="2.1,1.1"/>
<line x1="720.50" y1="78.0" x2="720.50" y2="182.5" stroke="#1f77b4" stroke-width="0.8" stroke-opacity="0.8" stroke-dasharray="2.1,1.1"/>
<line x1="828.50" y1="78.0" x2="828.50" y2="182.5" stroke="#1f77b4" stroke-width="0.8" stroke-opacity="0.8" stroke-dasharray="2.1,1.1"/>
<rect x="49.00" y="191" width="146.49" height="7.9" fill="#8c564b"/>
<rect x="195.49" y="191" width="272.54" height="7.9" fill="#17becf"/>
<rect x="468.03" y="191" width="61.32" height="7.9" fill="#d62728"/>
<rect x="529.35" y="191" width="35.20" height="7.9" fill="#bcbd22"/>
<rect x="564.55" y="191" width="9.08" height="7.9" fill="#ff7f0e"/>
<rect x="573.63" y="191" width="48.83" height="7.9" fill="#9467bd"/>
<rect x="622.46" y="191" width="77.22" height="7.9" fill="#1f77b4"/>
<rect x="699.68" y="191" width="21.58" height="7.9" fill="#2ca02c"/>
<rect x="721.26" y="191" width="107.88" height="7.9" fill="#e377c2"/>
<rect x="829.14" y="191" width="14.76" height="7.9" fill="#7f7f7f"/>
<line x1="851.5" y1="78.0" x2="851.5" y2="182.8" stroke="#000" stroke-width="1"/>
<line x1="849" y1="80.5" x2="851.5" y2="80.5" stroke="#000" stroke-width="1"/>
<text x="855.8" y="82.80" font-size="9.6" textLength="5.6" lengthAdjust="spacingAndGlyphs">4</text>
<line x1="849" y1="96.4" x2="851.5" y2="96.4" stroke="#000" stroke-width="1"/>
<text x="855.8" y="99.90" font-size="9.6" textLength="5.6" lengthAdjust="spacingAndGlyphs">4</text>
<line x1="849" y1="115.4" x2="851.5" y2="115.4" stroke="#000" stroke-width="1"/>
<text x="855.8" y="118.80" font-size="9.6" textLength="5.6" lengthAdjust="spacingAndGlyphs">4</text>
<line x1="849" y1="131.5" x2="851.5" y2="131.5" stroke="#000" stroke-width="1"/>
<text x="855.8" y="133.90" font-size="9.6" textLength="5.6" lengthAdjust="spacingAndGlyphs">4</text>
<line x1="849" y1="149.4" x2="851.5" y2="149.4" stroke="#000" stroke-width="1"/>
<text x="855.8" y="153.00" font-size="9.6" textLength="5.6" lengthAdjust="spacingAndGlyphs">5</text>
<line x1="849" y1="167.5" x2="851.5" y2="167.5" stroke="#000" stroke-width="1"/>
<text x="855.8" y="170.00" font-size="9.6" textLength="5.6" lengthAdjust="spacingAndGlyphs">5</text>
<text x="44.70" y="91.8" font-size="10.3" text-anchor="end" textLength="28.85" lengthAdjust="spacingAndGlyphs">C1QA</text>
<text x="44.80" y="108.7" font-size="10.3" text-anchor="end" textLength="26.80" lengthAdjust="spacingAndGlyphs">PSAP</text>
<text x="45.00" y="126.9" font-size="10.3" text-anchor="end" textLength="35.50" lengthAdjust="spacingAndGlyphs">CD79A</text>
<text x="44.70" y="143.8" font-size="10.3" text-anchor="end" textLength="34.90" lengthAdjust="spacingAndGlyphs">CD79B</text>
<text x="44.20" y="161.1" font-size="10.3" text-anchor="end" textLength="26.60" lengthAdjust="spacingAndGlyphs">CST3</text>
<text x="44.70" y="178.7" font-size="10.3" text-anchor="end" textLength="18.00" lengthAdjust="spacingAndGlyphs">LYZ</text>
<text transform="translate(124.20,299.70) rotate(-90)" x="0" y="0" font-size="10.3" textLength="92.00" lengthAdjust="spacingAndGlyphs">CD14+ Monocyte</text>
<text transform="translate(335.00,257.90) rotate(-90)" x="0" y="0" font-size="10.3" textLength="48.80" lengthAdjust="spacingAndGlyphs">Dendritic</text>
<text transform="translate(501.40,300.60) rotate(-90)" x="0" y="0" font-size="10.3" textLength="93.40" lengthAdjust="spacingAndGlyphs">CD8+ Cytotoxic T</text>
<text transform="translate(549.40,263.60) rotate(-90)" x="0" y="0" font-size="10.3" textLength="56.40" lengthAdjust="spacingAndGlyphs">CD56+ NK</text>
<text transform="translate(571.70,371.60) rotate(-90)" x="0" y="0" font-size="10.3" textLength="164.40" lengthAdjust="spacingAndGlyphs">CD4+/CD45RA+/CD25- Naive T</text>
<text transform="translate(599.70,378.40) rotate(-90)" x="0" y="0" font-size="10.3" textLength="171.20" lengthAdjust="spacingAndGlyphs">CD8+/CD45RA+ Naive Cytotoxic</text>
<text transform="translate(664.40,304.10) rotate(-90)" x="0" y="0" font-size="10.3" textLength="96.20" lengthAdjust="spacingAndGlyphs">CD4+/CD25 T Reg</text>
<text transform="translate(712.80,340.60) rotate(-90)" x="0" y="0" font-size="10.3" textLength="132.70" lengthAdjust="spacingAndGlyphs">CD4+/CD45RO+ Memory</text>
<text transform="translate(777.50,255.10) rotate(-90)" x="0" y="0" font-size="10.3" textLength="47.90" lengthAdjust="spacingAndGlyphs">CD19+ B</text>
<text transform="translate(838.80,246.00) rotate(-90)" x="0" y="0" font-size="10.3" textLength="35.80" lengthAdjust="spacingAndGlyphs">CD34+</text>
<text x="411.0" y="394.2" font-size="13.6" textLength="69" lengthAdjust="spacingAndGlyphs">bulk_labels</text>
</svg>
</body></html>
